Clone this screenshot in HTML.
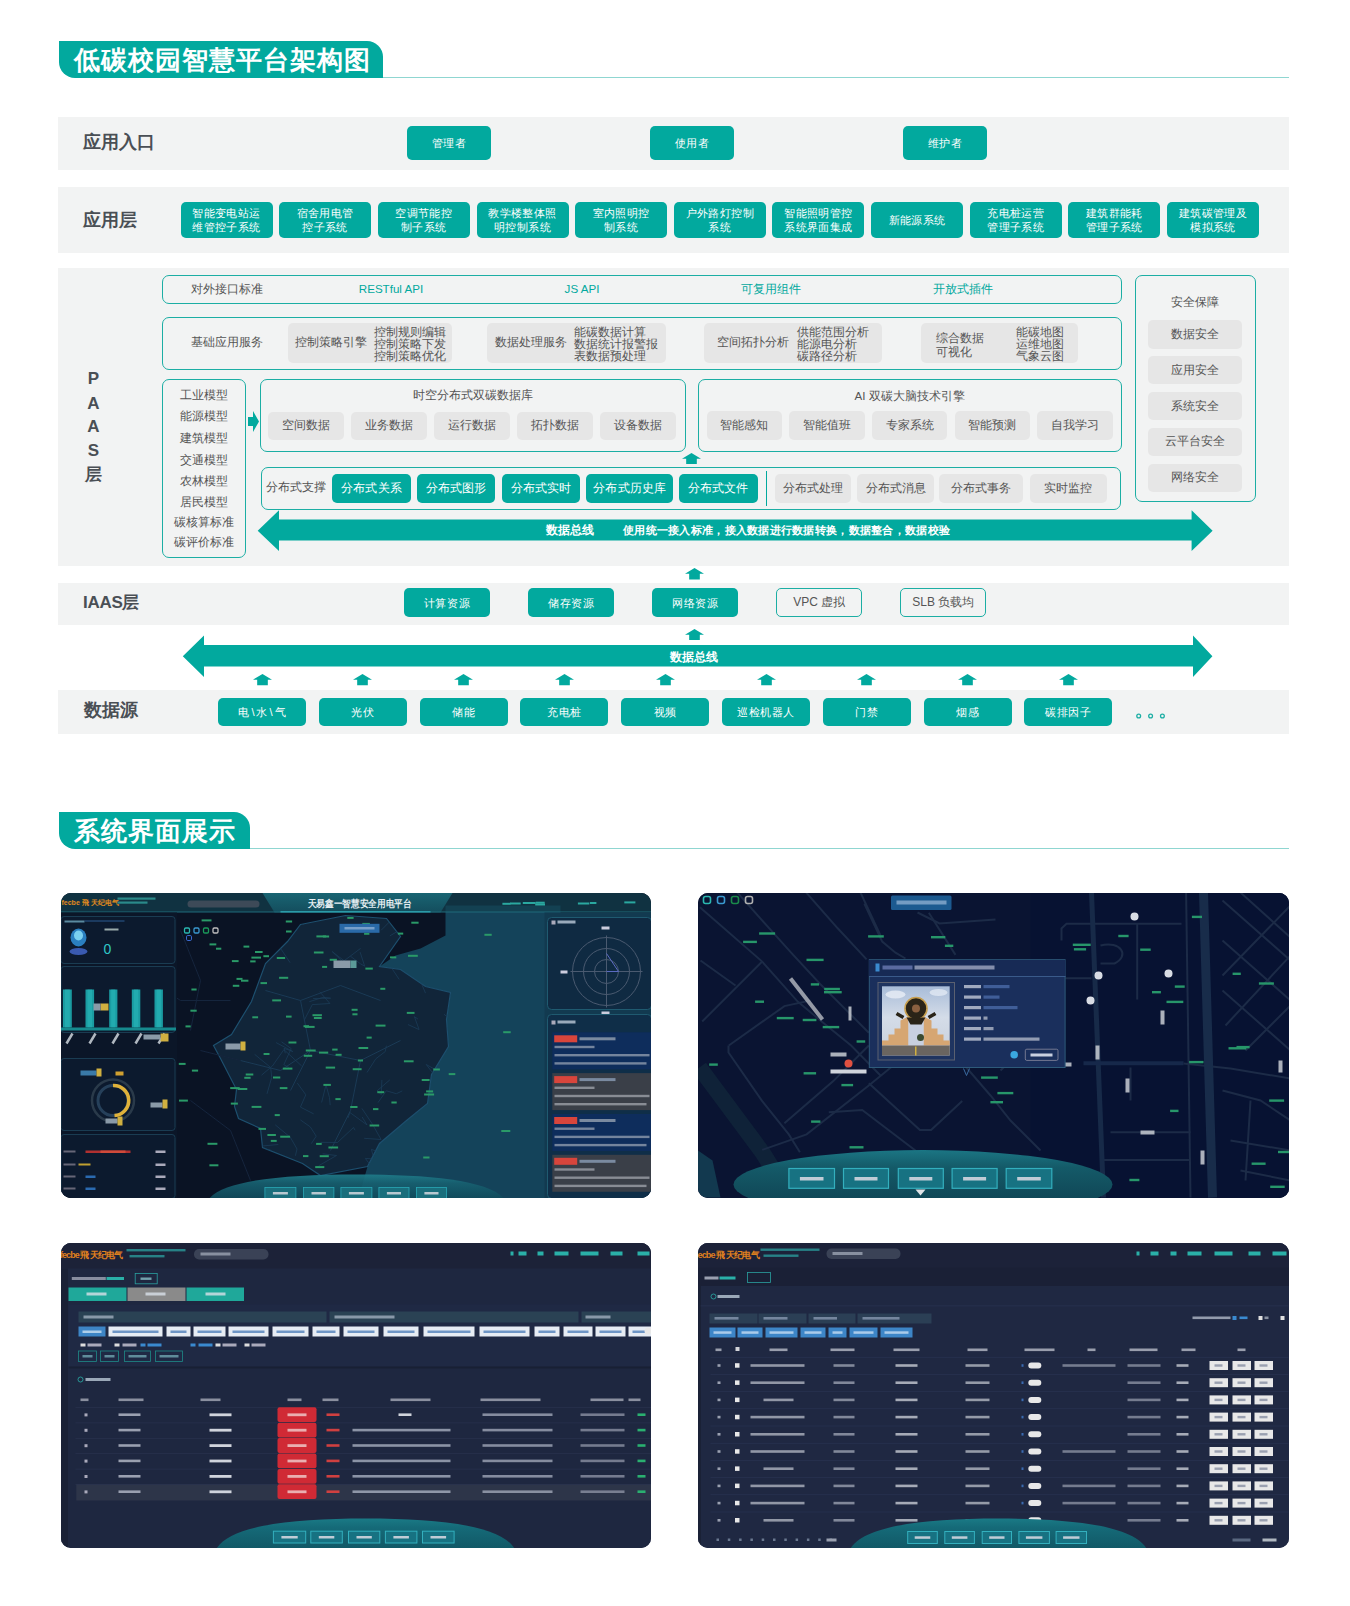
<!DOCTYPE html>
<html><head><meta charset="utf-8"><style>
*{margin:0;padding:0;box-sizing:border-box}
html,body{width:1350px;height:1606px;overflow:hidden;background:#fff;font-family:"Liberation Sans",sans-serif}
.a{position:absolute}
.band{position:absolute;left:58px;width:1231px;background:#F2F3F3}
.t{position:absolute;background:#02A99E;color:#fff;border-radius:5px;display:flex;align-items:center;justify-content:center;text-align:center;font-size:11px;letter-spacing:0.55px;padding-top:2px;line-height:13.5px;white-space:nowrap;overflow:hidden}
.g{position:absolute;background:#E6E6E6;color:#555;border-radius:5px;display:flex;align-items:center;justify-content:center;text-align:center;font-size:11.6px;white-space:nowrap}
.o{position:absolute;border:1.5px solid #1CAEA4;border-radius:7px}
.lbl{position:absolute;font-size:18px;font-weight:bold;color:#4A4F55;line-height:20px;white-space:nowrap}
.tx{position:absolute;font-size:11.6px;color:#555;white-space:nowrap;line-height:14px}
.hd{position:absolute;background:#02A99E;color:#fff;font-weight:bold;font-size:26px;letter-spacing:1px;border-radius:0 16px 0 16px;padding-left:15px;line-height:38px;white-space:nowrap}
.hl{position:absolute;height:1.3px;background:#8FD6D1}
</style></head><body>
<div class="hd" style="left:59px;top:41px;width:324px;height:37px">低碳校园智慧平台架构图</div>
<div class="hl" style="left:383px;top:76.5px;width:906px"></div>
<div class="band" style="top:117px;height:53px"></div>
<div class="lbl" style="left:83px;top:132px">应用入口</div>
<div class="t" style="left:407px;top:126px;width:84px;height:34px;font-size:11px;">管理者</div>
<div class="t" style="left:650px;top:126px;width:84px;height:34px;font-size:11px;">使用者</div>
<div class="t" style="left:903px;top:126px;width:84px;height:34px;font-size:11px;">维护者</div>
<div class="band" style="top:187px;height:66px"></div>
<div class="lbl" style="left:83px;top:210px">应用层</div>
<div class="t" style="left:180.5px;top:202px;width:92px;height:36px;font-size:11px;line-height:14px;letter-spacing:0.4px;padding-top:0">智能变电站运<br>维管控子系统</div>
<div class="t" style="left:279.1px;top:202px;width:92px;height:36px;font-size:11px;line-height:14px;letter-spacing:0.4px;padding-top:0">宿舍用电管<br>控子系统</div>
<div class="t" style="left:377.8px;top:202px;width:92px;height:36px;font-size:11px;line-height:14px;letter-spacing:0.4px;padding-top:0">空调节能控<br>制子系统</div>
<div class="t" style="left:476.5px;top:202px;width:92px;height:36px;font-size:11px;line-height:14px;letter-spacing:0.4px;padding-top:0">教学楼整体照<br>明控制系统</div>
<div class="t" style="left:575.1px;top:202px;width:92px;height:36px;font-size:11px;line-height:14px;letter-spacing:0.4px;padding-top:0">室内照明控<br>制系统</div>
<div class="t" style="left:673.8px;top:202px;width:92px;height:36px;font-size:11px;line-height:14px;letter-spacing:0.4px;padding-top:0">户外路灯控制<br>系统</div>
<div class="t" style="left:772.4px;top:202px;width:92px;height:36px;font-size:11px;line-height:14px;letter-spacing:0.4px;padding-top:0">智能照明管控<br>系统界面集成</div>
<div class="t" style="left:871.1px;top:202px;width:92px;height:36px;font-size:11px;line-height:14px;letter-spacing:0.4px;padding-top:0">新能源系统</div>
<div class="t" style="left:969.7px;top:202px;width:92px;height:36px;font-size:11px;line-height:14px;letter-spacing:0.4px;padding-top:0">充电桩运营<br>管理子系统</div>
<div class="t" style="left:1068.3px;top:202px;width:92px;height:36px;font-size:11px;line-height:14px;letter-spacing:0.4px;padding-top:0">建筑群能耗<br>管理子系统</div>
<div class="t" style="left:1167.0px;top:202px;width:92px;height:36px;font-size:11px;line-height:14px;letter-spacing:0.4px;padding-top:0">建筑碳管理及<br>模拟系统</div>
<div class="band" style="top:268px;height:298px"></div>
<div class="tx" style="left:-206.5px;top:369px;width:600px;height:20px;line-height:20px;text-align:center;font-size:17px;color:#4A4F55;font-weight:bold">P</div>
<div class="tx" style="left:-206.5px;top:393.5px;width:600px;height:20px;line-height:20px;text-align:center;font-size:17px;color:#4A4F55;font-weight:bold">A</div>
<div class="tx" style="left:-206.5px;top:417px;width:600px;height:20px;line-height:20px;text-align:center;font-size:17px;color:#4A4F55;font-weight:bold">A</div>
<div class="tx" style="left:-206.5px;top:440.5px;width:600px;height:20px;line-height:20px;text-align:center;font-size:17px;color:#4A4F55;font-weight:bold">S</div>
<div class="tx" style="left:-206.5px;top:464.5px;width:600px;height:20px;line-height:20px;text-align:center;font-size:17px;color:#4A4F55;font-weight:bold">层</div>
<div class="o" style="left:161.5px;top:275px;width:960px;height:28.5px;"></div>
<div class="tx" style="left:191px;top:282px;font-size:11.6px;color:#555;">对外接口标准</div>
<div class="tx" style="left:91px;top:279px;width:600px;height:20px;line-height:20px;text-align:center;font-size:11.6px;color:#02A99E;">RESTful API</div>
<div class="tx" style="left:282px;top:279px;width:600px;height:20px;line-height:20px;text-align:center;font-size:11.6px;color:#02A99E;">JS API</div>
<div class="tx" style="left:471px;top:279px;width:600px;height:20px;line-height:20px;text-align:center;font-size:11.6px;color:#02A99E;">可复用组件</div>
<div class="tx" style="left:663px;top:279px;width:600px;height:20px;line-height:20px;text-align:center;font-size:11.6px;color:#02A99E;">开放式插件</div>
<div class="o" style="left:161.5px;top:316.5px;width:960px;height:53px;"></div>
<div class="tx" style="left:191px;top:335px;font-size:11.6px;color:#555;">基础应用服务</div>
<div class="g" style="left:288px;top:323px;width:164px;height:39.5px;font-size:11.6px;"></div>
<div class="g" style="left:487px;top:323px;width:179px;height:39.5px;font-size:11.6px;"></div>
<div class="g" style="left:704px;top:323px;width:178px;height:39.5px;font-size:11.6px;"></div>
<div class="g" style="left:921px;top:323px;width:157px;height:39.5px;font-size:11.6px;"></div>
<div class="tx" style="left:294.5px;top:335px;font-size:11.6px;color:#555;">控制策略引擎</div>
<div class="tx" style="left:374px;top:325.5px;line-height:12px;font-size:12.4px">控制规则编辑<br>控制策略下发<br>控制策略优化</div>
<div class="tx" style="left:494.5px;top:335px;font-size:11.6px;color:#555;">数据处理服务</div>
<div class="tx" style="left:574px;top:325.5px;line-height:12px;font-size:12.4px">能碳数据计算<br>数据统计报警报<br>表数据预处理</div>
<div class="tx" style="left:717px;top:335px;font-size:11.6px;color:#555;">空间拓扑分析</div>
<div class="tx" style="left:797px;top:325.5px;line-height:12px;font-size:12.4px">供能范围分析<br>能源电分析<br>碳路径分析</div>
<div class="tx" style="left:936px;top:331px;line-height:13.5px">综合数据<br>可视化</div>
<div class="tx" style="left:1015.5px;top:325.5px;line-height:12px;font-size:12.4px">能碳地图<br>运维地图<br>气象云图</div>
<div class="o" style="left:161.5px;top:378.5px;width:84px;height:179px;"></div>
<div class="tx" style="left:-96.5px;top:384.7px;width:600px;height:20px;line-height:20px;text-align:center;font-size:11.6px;color:#555;">工业模型</div>
<div class="tx" style="left:-96.5px;top:406px;width:600px;height:20px;line-height:20px;text-align:center;font-size:11.6px;color:#555;">能源模型</div>
<div class="tx" style="left:-96.5px;top:427.7px;width:600px;height:20px;line-height:20px;text-align:center;font-size:11.6px;color:#555;">建筑模型</div>
<div class="tx" style="left:-96.5px;top:449.6px;width:600px;height:20px;line-height:20px;text-align:center;font-size:11.6px;color:#555;">交通模型</div>
<div class="tx" style="left:-96.5px;top:470.9px;width:600px;height:20px;line-height:20px;text-align:center;font-size:11.6px;color:#555;">农林模型</div>
<div class="tx" style="left:-96.5px;top:491.7px;width:600px;height:20px;line-height:20px;text-align:center;font-size:11.6px;color:#555;">居民模型</div>
<div class="tx" style="left:-96.5px;top:511.79999999999995px;width:600px;height:20px;line-height:20px;text-align:center;font-size:11.6px;color:#555;">碳核算标准</div>
<div class="tx" style="left:-96.5px;top:532.2px;width:600px;height:20px;line-height:20px;text-align:center;font-size:11.6px;color:#555;">碳评价标准</div>
<svg class="a" style="left:248px;top:410.5px" width="11" height="21" viewBox="0 0 11 21"><path d="M0 6 L5 6 L5 0 L11 10.5 L5 21 L5 15 L0 15 Z" fill="#02A99E"/></svg>
<div class="o" style="left:259.5px;top:379px;width:426.5px;height:73px;"></div>
<div class="tx" style="left:172.5px;top:385px;width:600px;height:20px;line-height:20px;text-align:center;font-size:11.6px;color:#555;">时空分布式双碳数据库</div>
<div class="g" style="left:268.3px;top:411.5px;width:76px;height:28.5px;font-size:11.6px;">空间数据</div>
<div class="g" style="left:351.1px;top:411.5px;width:76px;height:28.5px;font-size:11.6px;">业务数据</div>
<div class="g" style="left:434.0px;top:411.5px;width:76px;height:28.5px;font-size:11.6px;">运行数据</div>
<div class="g" style="left:516.9px;top:411.5px;width:76px;height:28.5px;font-size:11.6px;">拓扑数据</div>
<div class="g" style="left:599.7px;top:411.5px;width:76px;height:28.5px;font-size:11.6px;">设备数据</div>
<div class="o" style="left:697.5px;top:379px;width:424px;height:73px;"></div>
<div class="tx" style="left:609.5px;top:386px;width:600px;height:20px;line-height:20px;text-align:center;font-size:11.6px;color:#555;">AI 双碳大脑技术引擎</div>
<div class="g" style="left:706.5px;top:411px;width:75.5px;height:28.5px;font-size:11.6px;">智能感知</div>
<div class="g" style="left:789.2px;top:411px;width:75.5px;height:28.5px;font-size:11.6px;">智能值班</div>
<div class="g" style="left:871.9px;top:411px;width:75.5px;height:28.5px;font-size:11.6px;">专家系统</div>
<div class="g" style="left:954.6px;top:411px;width:75.5px;height:28.5px;font-size:11.6px;">智能预测</div>
<div class="g" style="left:1037.3px;top:411px;width:75.5px;height:28.5px;font-size:11.6px;">自我学习</div>
<svg class="a" style="left:682.0px;top:452.7px" width="19" height="11.5" viewBox="0 0 19 11.5"><path d="M9.5 0 L19 5.75 L14.82 5.75 L14.82 11.5 L4.18 11.5 L4.18 5.75 L0 5.75 Z" fill="#02A99E"/></svg>
<div class="o" style="left:260.5px;top:466.5px;width:860px;height:43.5px;"></div>
<div class="tx" style="left:265.5px;top:480px;font-size:11.6px;color:#555;">分布式支撑</div>
<div class="t" style="left:332.3px;top:474px;width:78.4px;height:29px;font-size:12px;letter-spacing:0.1px;padding-top:1px">分布式关系</div>
<div class="t" style="left:417.3px;top:474px;width:77.7px;height:29px;font-size:12px;letter-spacing:0.1px;padding-top:1px">分布式图形</div>
<div class="t" style="left:501.7px;top:474px;width:78.6px;height:29px;font-size:12px;letter-spacing:0.1px;padding-top:1px">分布式实时</div>
<div class="t" style="left:586px;top:474px;width:87.3px;height:29px;font-size:12px;letter-spacing:0.1px;padding-top:1px">分布式历史库</div>
<div class="t" style="left:678.5px;top:474px;width:79.4px;height:29px;font-size:12px;letter-spacing:0.1px;padding-top:1px">分布式文件</div>
<div class="a" style="left:765.5px;top:470.5px;width:1.5px;height:35.5px;background:#02A99E"></div>
<div class="g" style="left:775px;top:474px;width:75.6px;height:29px;font-size:12.2px;">分布式处理</div>
<div class="g" style="left:857.4px;top:474px;width:76.6px;height:29px;font-size:12.2px;">分布式消息</div>
<div class="g" style="left:939.2px;top:474px;width:84.1px;height:29px;font-size:12.2px;">分布式事务</div>
<div class="g" style="left:1030px;top:474px;width:76.8px;height:29px;font-size:12.2px;">实时监控</div>
<div class="o" style="left:1135px;top:275px;width:121px;height:227px;"></div>
<div class="tx" style="left:895px;top:291.5px;width:600px;height:20px;line-height:20px;text-align:center;font-size:11.6px;color:#555;">安全保障</div>
<div class="g" style="left:1148px;top:320.0px;width:94px;height:28.5px;font-size:11.6px;">数据安全</div>
<div class="g" style="left:1148px;top:355.9px;width:94px;height:28.5px;font-size:11.6px;">应用安全</div>
<div class="g" style="left:1148px;top:391.8px;width:94px;height:28.5px;font-size:11.6px;">系统安全</div>
<div class="g" style="left:1148px;top:427.7px;width:94px;height:28.5px;font-size:11.6px;">云平台安全</div>
<div class="g" style="left:1148px;top:463.6px;width:94px;height:28.5px;font-size:11.6px;">网络安全</div>
<svg class="a" style="left:0;top:0" width="1350" height="1606"><path d="M257.7 530.7 L279 510.3 L279 519.4 L1191.6 519.4 L1191.6 510.3 L1212.6 530.7 L1191.6 551.1 L1191.6 540.4 L279 540.4 L279 551.1 Z" fill="#02A99E"/></svg>
<div class="tx" style="left:545.5px;top:523px;font-size:11.6px;color:#fff;font-weight:bold">数据总线</div>
<div class="tx" style="left:623px;top:523px;font-size:11px;letter-spacing:0.28px;color:#fff;font-weight:bold">使用统一接入标准，接入数据进行数据转换，数据整合，数据校验</div>
<svg class="a" style="left:684.9px;top:568px" width="19" height="11.5" viewBox="0 0 19 11.5"><path d="M9.5 0 L19 5.75 L14.82 5.75 L14.82 11.5 L4.18 11.5 L4.18 5.75 L0 5.75 Z" fill="#02A99E"/></svg>
<div class="band" style="top:583px;height:41.5px"></div>
<div class="lbl" style="left:83px;top:593px;font-size:17px;letter-spacing:-0.3px">IAAS层</div>
<div class="t" style="left:404.3px;top:588px;width:85.5px;height:28.5px;font-size:11px;">计算资源</div>
<div class="t" style="left:527.9px;top:588px;width:86.4px;height:28.5px;font-size:11px;">储存资源</div>
<div class="t" style="left:652.4px;top:588px;width:85.4px;height:28.5px;font-size:11px;">网络资源</div>
<div class="o" style="left:776.4px;top:588px;width:85.9px;height:28.5px;border-radius:5px;display:flex;align-items:center;justify-content:center;font-size:12px;color:#555">VPC 虚拟</div>
<div class="o" style="left:900.4px;top:588px;width:85.9px;height:28.5px;border-radius:5px;display:flex;align-items:center;justify-content:center;font-size:12px;color:#555">SLB 负载均</div>
<svg class="a" style="left:685.2px;top:628.5px" width="19" height="11.5" viewBox="0 0 19 11.5"><path d="M9.5 0 L19 5.75 L14.82 5.75 L14.82 11.5 L4.18 11.5 L4.18 5.75 L0 5.75 Z" fill="#02A99E"/></svg>
<svg class="a" style="left:0;top:0" width="1350" height="1606"><path d="M182.8 656.3 L204 635.6 L204 645 L1193 645 L1193 635.6 L1212.4 656.3 L1193 677 L1193 666.5 L204 666.5 L204 677 Z" fill="#02A99E"/></svg>
<div class="tx" style="left:393.70000000000005px;top:646.5px;width:600px;height:20px;line-height:20px;text-align:center;font-size:12px;color:#fff;font-weight:bold">数据总线</div>
<div class="band" style="top:690px;height:43.5px"></div>
<div class="lbl" style="left:83.5px;top:700px">数据源</div>
<div class="t" style="left:218.0px;top:697.6px;width:88px;height:28.7px;font-size:11px;letter-spacing:2px;padding-left:2px">电\水\气</div>
<svg class="a" style="left:252.5px;top:674.3px" width="19" height="11.3" viewBox="0 0 19 11.3"><path d="M9.5 0 L19 5.65 L14.82 5.65 L14.82 11.3 L4.18 11.3 L4.18 5.65 L0 5.65 Z" fill="#02A99E"/></svg>
<div class="t" style="left:318.8px;top:697.6px;width:88px;height:28.7px;font-size:11px;">光伏</div>
<svg class="a" style="left:353.3px;top:674.3px" width="19" height="11.3" viewBox="0 0 19 11.3"><path d="M9.5 0 L19 5.65 L14.82 5.65 L14.82 11.3 L4.18 11.3 L4.18 5.65 L0 5.65 Z" fill="#02A99E"/></svg>
<div class="t" style="left:419.6px;top:697.6px;width:88px;height:28.7px;font-size:11px;">储能</div>
<svg class="a" style="left:454.1px;top:674.3px" width="19" height="11.3" viewBox="0 0 19 11.3"><path d="M9.5 0 L19 5.65 L14.82 5.65 L14.82 11.3 L4.18 11.3 L4.18 5.65 L0 5.65 Z" fill="#02A99E"/></svg>
<div class="t" style="left:520.4px;top:697.6px;width:88px;height:28.7px;font-size:11px;">充电桩</div>
<svg class="a" style="left:554.9px;top:674.3px" width="19" height="11.3" viewBox="0 0 19 11.3"><path d="M9.5 0 L19 5.65 L14.82 5.65 L14.82 11.3 L4.18 11.3 L4.18 5.65 L0 5.65 Z" fill="#02A99E"/></svg>
<div class="t" style="left:621.2px;top:697.6px;width:88px;height:28.7px;font-size:11px;">视频</div>
<svg class="a" style="left:655.7px;top:674.3px" width="19" height="11.3" viewBox="0 0 19 11.3"><path d="M9.5 0 L19 5.65 L14.82 5.65 L14.82 11.3 L4.18 11.3 L4.18 5.65 L0 5.65 Z" fill="#02A99E"/></svg>
<div class="t" style="left:722.0px;top:697.6px;width:88px;height:28.7px;font-size:11px;">巡检机器人</div>
<svg class="a" style="left:756.5px;top:674.3px" width="19" height="11.3" viewBox="0 0 19 11.3"><path d="M9.5 0 L19 5.65 L14.82 5.65 L14.82 11.3 L4.18 11.3 L4.18 5.65 L0 5.65 Z" fill="#02A99E"/></svg>
<div class="t" style="left:822.8px;top:697.6px;width:88px;height:28.7px;font-size:11px;">门禁</div>
<svg class="a" style="left:857.3px;top:674.3px" width="19" height="11.3" viewBox="0 0 19 11.3"><path d="M9.5 0 L19 5.65 L14.82 5.65 L14.82 11.3 L4.18 11.3 L4.18 5.65 L0 5.65 Z" fill="#02A99E"/></svg>
<div class="t" style="left:923.6px;top:697.6px;width:88px;height:28.7px;font-size:11px;">烟感</div>
<svg class="a" style="left:958.1px;top:674.3px" width="19" height="11.3" viewBox="0 0 19 11.3"><path d="M9.5 0 L19 5.65 L14.82 5.65 L14.82 11.3 L4.18 11.3 L4.18 5.65 L0 5.65 Z" fill="#02A99E"/></svg>
<div class="t" style="left:1024.4px;top:697.6px;width:88px;height:28.7px;font-size:11px;">碳排因子</div>
<svg class="a" style="left:1058.9px;top:674.3px" width="19" height="11.3" viewBox="0 0 19 11.3"><path d="M9.5 0 L19 5.65 L14.82 5.65 L14.82 11.3 L4.18 11.3 L4.18 5.65 L0 5.65 Z" fill="#02A99E"/></svg>
<svg class="a" style="left:1130px;top:708px" width="40" height="16" viewBox="1130 708 40 16"><circle cx="1138.7" cy="716" r="1.9" fill="none" stroke="#1CAEA4" stroke-width="1.3"/><circle cx="1150.6" cy="716" r="1.9" fill="none" stroke="#1CAEA4" stroke-width="1.3"/><circle cx="1162.4" cy="716" r="1.9" fill="none" stroke="#1CAEA4" stroke-width="1.3"/></svg>
<div class="hd" style="left:59px;top:812px;width:191px;height:37px">系统界面展示</div>
<div class="hl" style="left:250px;top:847.5px;width:1039px"></div>
<div class="a" style="left:60.5px;top:892.5px;width:590.5px;height:305px;border-radius:10px;overflow:hidden;background:#0b1b30"><svg width="590.5" height="305" viewBox="60.5 892.5 590.5 305" style="position:absolute;left:0;top:0"><rect x="60.5" y="892.5" width="590.5" height="305" fill="#0a1324" /><polygon points="445,905 560,905 560,1198 358,1198 367,1166 379,1143 406,1120 427,1103 431,1074 448,1046 446,1019 450,992 425,986 400,969 379,966 395,955 420,948 445,935" fill="#14435a" /><polygon points="300,924 345,915 386,918 400,936 379,966 400,969 425,986 450,992 446,1019 448,1046 431,1074 427,1103 406,1120 379,1143 367,1166 320,1175 302,1163 262,1147 260,1128 238,1118 234,1106 236,1089 220,1058 213,1045 231,1034 251,1001 265,963 287,941" fill="#112539" stroke="#1d4f6e" stroke-width="1.2"/><defs><clipPath id="zjc"><polygon points="300,924 345,915 386,918 400,936 379,966 400,969 425,986 450,992 446,1019 448,1046 431,1074 427,1103 406,1120 379,1143 367,1166 320,1175 302,1163 262,1147 260,1128 238,1118 234,1106 236,1089 220,1058 213,1045 231,1034 251,1001 265,963 287,941"/></clipPath></defs><path d="M361.4 1107.9 L372.0 1123.8 L380.6 1139.0 L363.7 1137.8 M436.7 1083.7 L451.1 1069.8 L450.0 1060.7 L451.6 1063.3 M218.1 971.3 L210.1 986.3 L219.7 974.1 L230.4 961.1 M360.1 947.9 L342.2 961.3 L331.7 951.1 L349.1 964.5 M283.0 1165.0 L284.4 1171.4 L273.8 1187.3 L280.6 1204.1 M425.0 992.7 L420.0 980.7 L407.3 965.0 L400.1 968.7 M215.8 1091.3 L210.0 1084.4 L221.4 1083.7 L214.8 1083.1 M380.6 929.8 L397.7 912.6 L406.7 925.1 L389.3 935.4 M301.1 1065.4 L283.4 1049.1 L271.9 1065.5 L261.0 1074.7 M433.5 1159.9 L427.9 1154.7 L428.8 1164.6 L414.6 1173.6 M402.3 1138.5 L385.7 1154.6 L370.9 1148.8 L374.9 1163.9 M294.9 1155.3 L296.5 1148.5 L289.9 1136.9 L274.7 1124.3 M377.0 1174.1 L364.8 1157.9 L382.3 1159.1 L378.9 1149.6 M354.6 1129.8 L353.0 1127.0 L337.0 1142.0 L320.2 1141.8 M412.0 948.9 L420.4 965.1 L425.1 975.5 L410.9 973.2 M250.1 1134.6 L242.7 1132.9 L260.7 1145.6 L277.8 1144.0 M329.7 1104.7 L329.0 1097.1 L325.5 1084.4 L321.1 1102.0 M440.6 1078.0 L440.5 1072.2 L425.7 1064.0 L435.9 1077.2 M299.9 1119.4 L309.8 1126.4 L315.7 1135.7 L310.8 1143.1 M281.0 1041.3 L290.7 1048.1 L283.3 1064.2 L288.7 1067.1 M217.7 1057.2 L208.7 1063.4 L207.4 1074.8 L212.7 1085.5 M296.8 1082.5 L305.3 1094.3 L299.9 1106.6 L313.2 1113.4 M444.4 1163.7 L445.0 1164.8 L433.0 1176.9 L448.8 1176.0 M377.5 1102.1 L385.8 1090.3 L395.9 1093.2 L401.8 1090.4 M361.6 1116.4 L366.5 1124.4 L349.5 1112.1 L347.4 1117.5 M266.5 1093.3 L271.2 1076.9 L270.2 1067.0 L254.1 1053.8 M289.6 962.2 L278.5 945.5 L277.3 941.2 L281.3 944.4 M270.9 1149.8 L252.9 1146.4 L244.9 1143.2 L231.1 1155.1 M302.9 924.4 L307.0 909.8 L308.6 904.0 L311.5 920.5 M407.4 1024.0 L418.6 1029.1 L413.9 1016.2 L417.4 1018.5 M439.9 1166.7 L443.9 1161.3 L458.0 1143.4 L443.9 1145.7 M359.6 951.6 L364.2 965.7 L359.8 963.2 L349.9 955.7 M443.5 1013.7 L460.1 1028.6 L463.6 1020.0 L480.9 1019.9 M312.6 998.0 L330.1 997.7 L322.4 996.9 L308.8 1001.2 M319.2 991.2 L329.4 1003.0 L311.8 1004.1 L303.7 1019.8 M398.7 978.9 L390.4 966.4 L408.0 959.0 L411.9 958.1 M366.5 1072.0 L375.3 1058.3 L384.7 1051.1 L385.9 1045.2 M284.8 1052.8 L283.5 1047.8 L292.3 1051.0 L275.6 1042.1 M322.1 1153.3 L336.0 1155.0 L318.6 1165.0 L316.0 1167.7 M381.4 1079.4 L380.8 1094.2 L376.6 1090.3 L389.3 1079.4" stroke="#1c3c58" stroke-width="0.8" fill="none" clip-path="url(#zjc)"/><path d="M265 990 L300 1000 L340 985 L380 1000 M300 1000 L310 1050 L290 1090 M310 1050 L360 1060 L400 1040 M360 1060 L350 1110 L330 1150 M240 1060 L280 1070 L310 1050" stroke="#1a3a55" stroke-width="1" fill="none"/><path d="M180 930 L200 980 L190 1030 M120 960 L180 1000 L230 1000 M190 1100 L230 1130 L250 1180 M200 1050 L240 1060" stroke="#15253d" stroke-width="1" fill="none"/><defs><linearGradient id="hd1" x1="0" y1="0" x2="0" y2="1"><stop offset="0" stop-color="#1a6a78"/><stop offset="1" stop-color="#145060"/></linearGradient></defs><rect x="60.5" y="892.5" width="590.5" height="19" fill="#12404f" opacity="0.7"/><polygon points="262,892.5 452,892.5 440,912 274,912" fill="url(#hd1)" opacity="0.9"/><rect x="60.5" y="911" width="590.5" height="1" fill="#1e6a7a" /><rect x="280" y="910.5" width="150" height="1.5" fill="#2a9aa8" /><text x="307" y="906.5" font-size="9.5" font-weight="bold" fill="#e6eef2" textLength="104" lengthAdjust="spacingAndGlyphs" font-family="Liberation Sans, sans-serif">天易鑫一智慧安全用电平台</text><text x="61" y="904" font-size="7" font-weight="bold" fill="#e08a20" font-family="Liberation Sans, sans-serif">fecbe 飛 天纪电气</text><rect x="117" y="897" width="38" height="2.2" fill="#2a8a8a" /><rect x="117" y="901" width="30" height="2.2" fill="#2a8a8a" /><rect x="187" y="900" width="72" height="7" fill="#3d4a58" rx="3.5"/><rect x="535.2" y="901.2" width="9.0" height="2" fill="#2aa8a0" /><rect x="589.4" y="901.5" width="6.5" height="2" fill="#2aa8a0" /><rect x="501.9" y="902.3" width="8.1" height="2" fill="#2aa8a0" /><rect x="534.7" y="903.0" width="9.8" height="2" fill="#2aa8a0" /><rect x="623.8" y="900.9" width="11.1" height="2" fill="#2aa8a0" /><rect x="522.3" y="901.5" width="12.9" height="2" fill="#2aa8a0" /><rect x="577.4" y="902.0" width="11.4" height="2" fill="#2aa8a0" /><rect x="509.5" y="902.0" width="10.7" height="2" fill="#2aa8a0" /><rect x="60.5" y="912" width="116" height="286" fill="#0b1628" /><rect x="60.5" y="916" width="114" height="47" fill="#0c1a2e" stroke="#1a3c52" stroke-width="1" rx="3"/><rect x="60.5" y="966" width="114" height="66" fill="#0c1a2e" stroke="#1a3c52" stroke-width="1" rx="3"/><rect x="60.5" y="1058" width="114" height="72" fill="#0c1a2e" stroke="#1a3c52" stroke-width="1" rx="3"/><rect x="60.5" y="1134" width="114" height="64" fill="#0c1a2e" stroke="#1a3c52" stroke-width="1" rx="3"/><rect x="64" y="920" width="20" height="2" fill="#5a8aa0" /><rect x="84" y="920" width="40" height="1" fill="#2a5a90" /><ellipse cx="78" cy="937" rx="8" ry="9" fill="#2a7fc0"/><ellipse cx="78" cy="935" rx="4.5" ry="5" fill="#7ad0f0"/><ellipse cx="78" cy="951" rx="9" ry="3.5" fill="#3a5ab0"/><text x="103" y="953" font-size="14" fill="#30c8c8" font-family="Liberation Sans, sans-serif">0</text><rect x="104" y="928" width="14" height="2" fill="#9aa" /><rect x="62.4" y="989" width="8.899999999999999" height="38" fill="#1a9ca2" /><rect x="64.4" y="989" width="4.899999999999999" height="38" fill="#28b5b8" opacity="0.6"/><rect x="85" y="989" width="8.599999999999994" height="38" fill="#1a9ca2" /><rect x="87" y="989" width="4.599999999999994" height="38" fill="#28b5b8" opacity="0.6"/><rect x="108.7" y="989" width="8.200000000000003" height="38" fill="#1a9ca2" /><rect x="110.7" y="989" width="4.200000000000003" height="38" fill="#28b5b8" opacity="0.6"/><rect x="131.3" y="989" width="8.5" height="38" fill="#1a9ca2" /><rect x="133.3" y="989" width="4.5" height="38" fill="#28b5b8" opacity="0.6"/><rect x="154" y="989" width="8.400000000000006" height="38" fill="#1a9ca2" /><rect x="156" y="989" width="4.400000000000006" height="38" fill="#28b5b8" opacity="0.6"/><rect x="100" y="1003" width="8" height="7" fill="#d0b040" /><rect x="93" y="1003" width="7" height="7" fill="#8a9aa8" /><rect x="60.5" y="1027" width="115" height="3" fill="#168a8e" /><path d="M66 1043 L72 1033" stroke="#b0b8c0" stroke-width="2.5"/><path d="M89 1043 L95 1033" stroke="#b0b8c0" stroke-width="2.5"/><path d="M112 1043 L118 1033" stroke="#b0b8c0" stroke-width="2.5"/><path d="M135 1043 L141 1033" stroke="#b0b8c0" stroke-width="2.5"/><path d="M158 1043 L164 1033" stroke="#b0b8c0" stroke-width="2.5"/><rect x="160" y="1033" width="8" height="8" fill="#d0b040" /><rect x="143" y="1034" width="17" height="5" fill="#8a9aa8" /><circle cx="112.5" cy="1100" r="21" fill="none" stroke="#2a3a4a" stroke-width="2.5"/><circle cx="112.5" cy="1100" r="15" fill="none" stroke="#26405a" stroke-width="3"/><path d="M112.5 1085 A15 15 0 0 1 114 1115" fill="none" stroke="#e0b23a" stroke-width="3.5"/><rect x="80" y="1070" width="16" height="5" fill="#3a7aa8" /><rect x="96" y="1068" width="5" height="8" fill="#d0b040" /><rect x="115" y="1071" width="8" height="4" fill="#d0a030" /><rect x="150" y="1102" width="12" height="5" fill="#8a9aa8" /><rect x="162" y="1099" width="5" height="9" fill="#d0b040" /><rect x="105" y="1118" width="12" height="5" fill="#8a9aa8" /><rect x="117" y="1116" width="5" height="9" fill="#d0b040" /><rect x="85" y="1150" width="45" height="2.5" fill="#b03030" /><rect x="100" y="1150" width="25" height="2.5" fill="#d04a3a" /><rect x="78" y="1163" width="12" height="2" fill="#c0a030" /><rect x="85" y="1175" width="10" height="2.5" fill="#2a6ab0" /><rect x="85" y="1187" width="10" height="2.5" fill="#2a6ab0" /><rect x="155" y="1150" width="10" height="2.5" fill="#aab" /><rect x="63" y="1150" width="12" height="2" fill="#667" /><rect x="155" y="1163" width="10" height="2.5" fill="#aab" /><rect x="63" y="1163" width="12" height="2" fill="#667" /><rect x="155" y="1175" width="10" height="2.5" fill="#aab" /><rect x="63" y="1175" width="12" height="2" fill="#667" /><rect x="155" y="1187" width="10" height="2.5" fill="#aab" /><rect x="63" y="1187" width="12" height="2" fill="#667" /><rect x="276.3" y="956.5" width="8.3" height="2" fill="#2a9a68" /><rect x="178.3" y="1062.4" width="6.8" height="2" fill="#2a9a68" /><rect x="315.6" y="1142.4" width="5.6" height="2" fill="#2a9a68" /><rect x="237.1" y="1087.5" width="9.7" height="2" fill="#2a9a68" /><rect x="375.1" y="1024.1" width="9.9" height="2" fill="#2a9a68" /><rect x="262.9" y="954.7" width="5.6" height="2" fill="#2a9a68" /><rect x="270.3" y="1139.4" width="5.9" height="2" fill="#2a9a68" /><rect x="376.8" y="1090.7" width="6.9" height="2" fill="#2a9a68" /><rect x="363.6" y="932.3" width="5.3" height="2" fill="#2a9a68" /><rect x="230.3" y="1102.1" width="7.1" height="2" fill="#2a9a68" /><rect x="272.5" y="1076.0" width="7.3" height="2" fill="#2a9a68" /><rect x="266.9" y="1133.5" width="8.5" height="2" fill="#2a9a68" /><rect x="245.2" y="1073.0" width="7.6" height="2" fill="#2a9a68" /><rect x="448.2" y="1072.6" width="6.6" height="2" fill="#2a9a68" /><rect x="421.2" y="1078.5" width="7.9" height="2" fill="#2a9a68" /><rect x="327.9" y="1146.0" width="9.7" height="2" fill="#2a9a68" /><rect x="334.9" y="1097.6" width="5.3" height="2" fill="#2a9a68" /><rect x="423.6" y="1093.0" width="10.0" height="2" fill="#2a9a68" /><rect x="410.8" y="921.2" width="7.3" height="2" fill="#2a9a68" /><rect x="215.5" y="947.2" width="5.3" height="2" fill="#2a9a68" /><rect x="302.5" y="1154.6" width="5.4" height="2" fill="#2a9a68" /><rect x="325.2" y="1066.1" width="9.4" height="2" fill="#2a9a68" /><rect x="312.0" y="1013.7" width="9.4" height="2" fill="#2a9a68" /><rect x="240.5" y="979.2" width="7.4" height="2" fill="#2a9a68" /><rect x="379.8" y="987.3" width="5.0" height="2" fill="#2a9a68" /><rect x="313.4" y="1016.5" width="7.8" height="2" fill="#2a9a68" /><rect x="390.9" y="1101.0" width="5.3" height="2" fill="#2a9a68" /><rect x="500.8" y="1129.5" width="9.0" height="2" fill="#2a9a68" /><rect x="303.0" y="1024.7" width="5.5" height="2" fill="#2a9a68" /><rect x="397.4" y="932.1" width="5.3" height="2" fill="#2a9a68" /><rect x="231.4" y="959.6" width="6.7" height="2" fill="#2a9a68" /><rect x="209.0" y="942.9" width="6.8" height="2" fill="#2a9a68" /><rect x="389.5" y="955.9" width="6.3" height="2" fill="#2a9a68" /><rect x="285.5" y="1015.1" width="5.6" height="2" fill="#2a9a68" /><rect x="331.7" y="1048.1" width="5.4" height="2" fill="#2a9a68" /><rect x="189.9" y="1009.2" width="6.3" height="2" fill="#2a9a68" /><rect x="361.8" y="922.4" width="7.6" height="2" fill="#2a9a68" /><rect x="251.8" y="1015.8" width="5.8" height="2" fill="#2a9a68" /><rect x="278.6" y="976.3" width="9.1" height="2" fill="#2a9a68" /><rect x="351.9" y="1012.8" width="5.1" height="2" fill="#2a9a68" /><rect x="251.1" y="1105.4" width="9.8" height="2" fill="#2a9a68" /><rect x="236.0" y="977.4" width="6.0" height="2" fill="#2a9a68" /><rect x="229.7" y="1086.6" width="9.5" height="2" fill="#2a9a68" /><rect x="336.4" y="964.1" width="8.9" height="2" fill="#2a9a68" /><rect x="279.7" y="1135.2" width="9.9" height="2" fill="#2a9a68" /><rect x="304.4" y="1025.4" width="9.7" height="2" fill="#2a9a68" /><rect x="208.9" y="1163.8" width="9.0" height="2" fill="#2a9a68" /><rect x="207.0" y="1142.3" width="9.9" height="2" fill="#2a9a68" /><rect x="406.3" y="1011.4" width="7.7" height="2" fill="#2a9a68" /><rect x="201.1" y="918.9" width="9.9" height="2" fill="#2a9a68" /><rect x="403.4" y="1059.8" width="9.7" height="2" fill="#2a9a68" /><rect x="319.2" y="1154.7" width="9.1" height="2" fill="#2a9a68" /><rect x="232.3" y="984.3" width="6.5" height="2" fill="#2a9a68" /><rect x="243.8" y="1076.3" width="6.3" height="2" fill="#2a9a68" /><rect x="313.4" y="951.0" width="9.6" height="2" fill="#2a9a68" /><rect x="288.0" y="1041.0" width="7.9" height="2" fill="#2a9a68" /><rect x="502.7" y="1030.7" width="7.5" height="2" fill="#2a9a68" /><rect x="357.4" y="1059.0" width="5.1" height="2" fill="#2a9a68" /><rect x="321.6" y="965.4" width="5.0" height="2" fill="#2a9a68" /><rect x="432.8" y="1068.0" width="6.6" height="2" fill="#2a9a68" /><rect x="352.2" y="1067.7" width="8.9" height="2" fill="#2a9a68" /><rect x="191.4" y="1069.1" width="6.2" height="2" fill="#2a9a68" /><rect x="258.0" y="1127.4" width="7.5" height="2" fill="#2a9a68" /><rect x="369.1" y="1124.0" width="9.6" height="2" fill="#2a9a68" /><rect x="322.9" y="1083.4" width="7.5" height="2" fill="#2a9a68" /><rect x="349.7" y="1105.5" width="7.3" height="2" fill="#2a9a68" /><rect x="358.0" y="1046.5" width="9.7" height="2" fill="#2a9a68" /><rect x="422.7" y="1156.0" width="6.3" height="2" fill="#2a9a68" /><rect x="322.4" y="935.0" width="6.2" height="2" fill="#2a9a68" /><rect x="178.5" y="1099.1" width="8.9" height="2" fill="#2a9a68" /><rect x="407.5" y="954.3" width="9.8" height="2" fill="#2a9a68" /><rect x="305.3" y="1049.0" width="9.9" height="2" fill="#2a9a68" /><rect x="351.1" y="1008.3" width="6.0" height="2" fill="#2a9a68" /><rect x="274.2" y="1113.6" width="5.1" height="2" fill="#2a9a68" /><rect x="366.1" y="1036.1" width="5.1" height="2" fill="#2a9a68" /><rect x="279.3" y="1086.6" width="7.6" height="2" fill="#2a9a68" /><rect x="190.9" y="988.0" width="5.2" height="2" fill="#2a9a68" /><rect x="314.7" y="1165.6" width="9.1" height="2" fill="#2a9a68" /><rect x="250.9" y="956.1" width="9.6" height="2" fill="#2a9a68" /><rect x="372.5" y="1107.6" width="5.4" height="2" fill="#2a9a68" /><rect x="315.9" y="934.9" width="9.7" height="2" fill="#2a9a68" /><rect x="483.9" y="933.3" width="7.3" height="2" fill="#2a9a68" /><rect x="282.3" y="1067.1" width="9.6" height="2" fill="#2a9a68" /><rect x="254.5" y="950.5" width="7.6" height="2" fill="#2a9a68" /><rect x="243.0" y="945.1" width="5.8" height="2" fill="#2a9a68" /><rect x="271.7" y="998.9" width="8.8" height="2" fill="#2a9a68" /><rect x="263.1" y="1052.5" width="5.9" height="2" fill="#2a9a68" /><rect x="285.3" y="920.0" width="6.3" height="2" fill="#2a9a68" /><rect x="364.9" y="967.1" width="7.4" height="2" fill="#2a9a68" /><rect x="318.5" y="1051.1" width="9.2" height="2" fill="#2a9a68" /><rect x="303.3" y="1054.3" width="8.4" height="2" fill="#2a9a68" /><rect x="425.6" y="1089.9" width="7.0" height="2" fill="#2a9a68" /><rect x="285.5" y="930.0" width="5.6" height="2" fill="#2a9a68" /><rect x="249.7" y="959.9" width="5.4" height="2" fill="#2a9a68" /><rect x="260.0" y="981.6" width="6.5" height="2" fill="#2a9a68" /><rect x="329.2" y="958.3" width="7.2" height="2" fill="#2a9a68" /><rect x="335.1" y="1053.3" width="6.0" height="2" fill="#2a9a68" /><rect x="346.8" y="916.4" width="6.3" height="2" fill="#2a9a68" /><rect x="185.0" y="1024.9" width="5.2" height="2" fill="#2a9a68" /><rect x="184.0" y="927.5" width="5" height="5" fill="none" stroke="#2ab8b0" stroke-width="1.3" rx="1.3"/><rect x="193.5" y="927.5" width="5" height="5" fill="none" stroke="#3a9ad0" stroke-width="1.3" rx="1.3"/><rect x="203.0" y="927.5" width="5" height="5" fill="none" stroke="#1a9a5a" stroke-width="1.3" rx="1.3"/><rect x="212.5" y="927.5" width="5" height="5" fill="none" stroke="#c0c0c0" stroke-width="1.3" rx="1.3"/><rect x="186" y="935" width="5" height="5" fill="none" stroke="#3a6ad0" stroke-width="1" rx="1.3"/><rect x="333" y="960" width="17" height="7.5" fill="#8a9aa8" /><rect x="350" y="960" width="6" height="7.5" fill="#5a9a98" /><rect x="225" y="1043" width="15" height="6" fill="#8a9aa8" /><rect x="240" y="1041" width="5" height="9" fill="#d0b040" /><rect x="339" y="923.3" width="40" height="9" fill="#2a6aa8" /><rect x="344" y="926.5" width="30" height="2.5" fill="#9ab8d8" opacity="0.7"/><defs><linearGradient id="gl1" x1="0" y1="0" x2="0" y2="1"><stop offset="0" stop-color="#1f7c8a"/><stop offset="0.35" stop-color="#176070"/><stop offset="1" stop-color="#10495a"/></linearGradient></defs><path d="M208 1199 C221.9 1180.0 282.0 1174 356.0 1174 C430.0 1174 490.1 1180.0 504 1199 Z" fill="url(#gl1)" opacity="0.92"/><rect x="264.4" y="1187" width="31.0" height="11" fill="#1a6e7c" stroke="#2aa8b6" stroke-width="0.8"/><rect x="272.4" y="1191.5" width="15.0" height="2.5" fill="#b8c8d0" /><rect x="303" y="1187" width="30.399999999999977" height="11" fill="#1a6e7c" stroke="#2aa8b6" stroke-width="0.8"/><rect x="311" y="1191.5" width="14.399999999999977" height="2.5" fill="#b8c8d0" /><rect x="340.4" y="1187" width="31.0" height="11" fill="#1a6e7c" stroke="#2aa8b6" stroke-width="0.8"/><rect x="348.4" y="1191.5" width="15.0" height="2.5" fill="#b8c8d0" /><rect x="378.4" y="1187" width="30.100000000000023" height="11" fill="#1a6e7c" stroke="#2aa8b6" stroke-width="0.8"/><rect x="386.4" y="1191.5" width="14.100000000000023" height="2.5" fill="#b8c8d0" /><rect x="415.9" y="1187" width="30.100000000000023" height="11" fill="#1a6e7c" stroke="#2aa8b6" stroke-width="0.8"/><rect x="423.9" y="1191.5" width="14.100000000000023" height="2.5" fill="#b8c8d0" /><rect x="544" y="912" width="108" height="286" fill="#123a50" /><rect x="547" y="917" width="104" height="92" fill="#0f2a42" stroke="#1f5a70" stroke-width="1" rx="4"/><rect x="551" y="920" width="4" height="4" fill="#aab" /><rect x="557" y="920" width="18" height="3" fill="#9ab" /><g fill="none" stroke="#4a5a70" stroke-width="1"><circle cx="606" cy="971" r="34"/><circle cx="606" cy="971" r="23"/><circle cx="606" cy="971" r="12"/><path d="M570 971 L642 971 M606 935 L606 1007"/></g><path d="M606 953 L618 971 L606 971" fill="none" stroke="#5a6ac0" stroke-width="1"/><rect x="601" y="926" width="8" height="3" fill="#ccd" /><rect x="560" y="970" width="7" height="3" fill="#ccd" /><rect x="601" y="1011" width="8" height="3" fill="#ccd" /><rect x="547" y="1014" width="104" height="184" fill="#0f2e48" stroke="#1f5a70" stroke-width="1" rx="4"/><rect x="551" y="1020" width="4" height="4" fill="#aab" /><rect x="557" y="1020" width="18" height="3" fill="#9ab" /><rect x="551.8" y="1031.8" width="100" height="37" fill="#0e2d5c" /><rect x="553.7" y="1034.8" width="23" height="7" fill="#d8453c" /><rect x="579" y="1036.8" width="36" height="3" fill="#7a8aa0" /><rect x="554" y="1045.3" width="40" height="2.4" fill="#c8ccd4" opacity="0.55"/><rect x="554" y="1053.5" width="95" height="2.4" fill="#c8ccd4" opacity="0.55"/><rect x="554" y="1061.7" width="92" height="2.4" fill="#c8ccd4" opacity="0.55"/><rect x="551.8" y="1072.6" width="100" height="37" fill="#3a3f48" /><rect x="553.7" y="1075.6" width="23" height="7" fill="#d8453c" /><rect x="579" y="1077.6" width="36" height="3" fill="#7a8aa0" /><rect x="554" y="1086.1" width="40" height="2.4" fill="#c8ccd4" opacity="0.55"/><rect x="554" y="1094.3" width="95" height="2.4" fill="#c8ccd4" opacity="0.55"/><rect x="554" y="1102.5" width="92" height="2.4" fill="#c8ccd4" opacity="0.55"/><rect x="551.8" y="1113.5" width="100" height="37" fill="#0e2d5c" /><rect x="553.7" y="1116.5" width="23" height="7" fill="#d8453c" /><rect x="579" y="1118.5" width="36" height="3" fill="#7a8aa0" /><rect x="554" y="1127.0" width="40" height="2.4" fill="#c8ccd4" opacity="0.55"/><rect x="554" y="1135.2" width="95" height="2.4" fill="#c8ccd4" opacity="0.55"/><rect x="554" y="1143.4" width="92" height="2.4" fill="#c8ccd4" opacity="0.55"/><rect x="551.8" y="1154.3" width="100" height="37" fill="#3a3f48" /><rect x="553.7" y="1157.3" width="23" height="7" fill="#d8453c" /><rect x="579" y="1159.3" width="36" height="3" fill="#7a8aa0" /><rect x="554" y="1167.8" width="40" height="2.4" fill="#c8ccd4" opacity="0.55"/><rect x="554" y="1176.0" width="95" height="2.4" fill="#c8ccd4" opacity="0.55"/><rect x="554" y="1184.2" width="92" height="2.4" fill="#c8ccd4" opacity="0.55"/></svg></div>
<div class="a" style="left:697.5px;top:892.5px;width:591px;height:305px;border-radius:10px;overflow:hidden;background:#0c1a36"><svg width="591" height="305" viewBox="697.5 892.5 591 305" style="position:absolute;left:0;top:0"><rect x="697.5" y="892.5" width="591" height="305" fill="#0a1432" /><rect x="1030" y="892.5" width="260" height="305" fill="#071232" /><path d="M699 1067 L762 1152 L790 1197" stroke="#0f2238" stroke-width="16" fill="none"/><path d="M699.4 906.7 L761.7 961.1 L797.2 1001.1 L823.9 1023.3 L850.6 1045 L880 1075" stroke="#1c2b47" stroke-width="2" fill="none"/><path d="M735 890 L790.6 952.2 L819.4 983.3 L850.6 1014.4 L868.3 1032.2" stroke="#1c2b47" stroke-width="2" fill="none"/><path d="M803.9 890 L837.2 927.8 L866.1 958.9" stroke="#1c2b47" stroke-width="2" fill="none"/><path d="M701.7 1021 L761.7 961" stroke="#1c2b47" stroke-width="2" fill="none"/><path d="M728.3 1045 L783.9 1005.6 L810 1000" stroke="#1c2b47" stroke-width="2" fill="none"/><path d="M863.9 903.3 L881.7 941.1 L895 952.2 L905 958" stroke="#1c2b47" stroke-width="2" fill="none"/><path d="M917 912 L939 923 L995 919" stroke="#1c2b47" stroke-width="2" fill="none"/><path d="M928.3 912.2 L955 954.4" stroke="#1c2b47" stroke-width="2" fill="none"/><path d="M728 1045 L728 1052 L761.7 1100.6 L788.3 1133.9 L799.4 1151.7" stroke="#1c2b47" stroke-width="2" fill="none"/><path d="M783.9 1122.8 L832.8 1080.6 L868.3 1045" stroke="#1c2b47" stroke-width="2" fill="none"/><path d="M761.7 1149.4 L806.1 1133.9 L868.3 1085 L917.2 1045" stroke="#1c2b47" stroke-width="2" fill="none"/><path d="M828.3 1111.7 L861.7 1109.4 L917.2 1151.7" stroke="#1c2b47" stroke-width="2" fill="none"/><path d="M868.3 1082.8 L919.4 1129.4 L930.6 1129.4 L961.7 1100.6" stroke="#1c2b47" stroke-width="2" fill="none"/><path d="M965 1066 L990 1095 L1010 1120 L1040 1150" stroke="#1c2b47" stroke-width="2" fill="none"/><path d="M1000 1070 L1030 1040 L1060 1030" stroke="#1c2b47" stroke-width="2" fill="none"/><path d="M1061 940 L1061 928 L1066 923.3 L1181 923.3" stroke="#1c2b47" stroke-width="2" fill="none"/><path d="M1063 977.8 L1091 977.8" stroke="#1c2b47" stroke-width="2" fill="none"/><path d="M1100 945 C1120 940 1130 955 1114 963 L1100 963" stroke="#1c2b47" stroke-width="2" fill="none"/><path d="M1136.7 923 L1136.7 999" stroke="#1c2b47" stroke-width="2" fill="none"/><path d="M1130 1067 L1130 1100" stroke="#1c2b47" stroke-width="2" fill="none"/><path d="M1110 1131.7 L1190 1131.7" stroke="#1c2b47" stroke-width="2" fill="none"/><path d="M1101 1159.4 L1190 1159.4" stroke="#1c2b47" stroke-width="2" fill="none"/><path d="M1183 1063 L1230 1068 L1290 1078" stroke="#1c2b47" stroke-width="2" fill="none"/><path d="M1185.6 892 L1190 1197" stroke="#1c2b47" stroke-width="2" fill="none"/><path d="M1222 900 L1290 960 M1240 892 L1290 937 M1222 940 L1290 1000 M1222 990 L1290 1050" stroke="#1c2b47" stroke-width="2" fill="none"/><path d="M1290 905 L1222 975 M1290 955 L1225 1025 M1290 1005 L1245 1050" stroke="#1c2b47" stroke-width="2" fill="none"/><path d="M1222 1090 L1260 1100 L1290 1120 M1230 1140 L1290 1150 M1240 1170 L1290 1180 M1250 1100 L1245 1180" stroke="#1c2b47" stroke-width="2" fill="none"/><path d="M700 960 L735 985" stroke="#1c2b47" stroke-width="2" fill="none"/><path d="M860 892 L880 935" stroke="#1c2b47" stroke-width="2" fill="none"/><path d="M1000 980 L1060 980" stroke="#1c2b47" stroke-width="2" fill="none"/><path d="M1050 1030 L1000 1040 L960 1060" stroke="#1c2b47" stroke-width="2" fill="none"/><path d="M1091 892 L1103 1197" stroke="#172a48" stroke-width="5" fill="none"/><path d="M1203 892 L1212 1197" stroke="#182c4a" stroke-width="9" fill="none"/><path d="M1083 1062.8 L1183 1062.8" stroke="#16284a" stroke-width="4" fill="none"/><polygon points="697.5,1150 712,1160 720,1197 697.5,1197" fill="#12394f" /><rect x="1236.0" y="1045.4" width="13.1" height="2.4" fill="#27966a" /><rect x="996.9" y="1091.4" width="15.9" height="2.4" fill="#27966a" /><rect x="754.6" y="1000.0" width="8.9" height="2.4" fill="#27966a" /><rect x="1169.6" y="1109.2" width="8.4" height="2.4" fill="#27966a" /><rect x="1269.7" y="1185.1" width="14.5" height="2.4" fill="#27966a" /><rect x="708.7" y="1062.9" width="8.6" height="2.4" fill="#27966a" /><rect x="810.3" y="982.7" width="8.3" height="2.4" fill="#27966a" /><rect x="1188.6" y="1060.4" width="14.4" height="2.4" fill="#27966a" /><rect x="989.9" y="1100.5" width="12.6" height="2.4" fill="#27966a" /><rect x="1277.5" y="1150.3" width="15.1" height="2.4" fill="#27966a" /><rect x="867.6" y="934.7" width="15.7" height="2.4" fill="#27966a" /><rect x="1191.4" y="915.2" width="10.1" height="2.4" fill="#27966a" /><rect x="1228.0" y="1046.6" width="17.8" height="2.4" fill="#27966a" /><rect x="930.5" y="935.5" width="14.3" height="2.4" fill="#27966a" /><rect x="1151.5" y="990.5" width="8.9" height="2.4" fill="#27966a" /><rect x="1139.7" y="948.0" width="10.5" height="2.4" fill="#27966a" /><rect x="758.6" y="931.8" width="16.0" height="2.4" fill="#27966a" /><rect x="803.1" y="1071.6" width="12.5" height="2.4" fill="#27966a" /><rect x="810.6" y="1119.9" width="9.3" height="2.4" fill="#27966a" /><rect x="1073.4" y="947.6" width="12.2" height="2.4" fill="#27966a" /><rect x="823.5" y="990.5" width="17.7" height="2.4" fill="#27966a" /><rect x="1166.0" y="1000.2" width="16.8" height="2.4" fill="#27966a" /><rect x="822.2" y="1025.4" width="16.5" height="2.4" fill="#27966a" /><rect x="1072.3" y="943.1" width="17.9" height="2.4" fill="#27966a" /><rect x="823.7" y="987.3" width="15.7" height="2.4" fill="#27966a" /><rect x="742.6" y="940.2" width="13.8" height="2.4" fill="#27966a" /><rect x="840.9" y="1083.4" width="11.7" height="2.4" fill="#27966a" /><rect x="980.6" y="1075.9" width="16.7" height="2.4" fill="#27966a" /><rect x="806.0" y="958.2" width="17.1" height="2.4" fill="#27966a" /><rect x="1174.3" y="984.9" width="9.9" height="2.4" fill="#27966a" /><rect x="1128.9" y="1178.3" width="10.0" height="2.4" fill="#27966a" /><rect x="1251.1" y="1162.0" width="14.0" height="2.4" fill="#27966a" /><rect x="944.4" y="944.1" width="8.4" height="2.4" fill="#27966a" /><rect x="1258.4" y="981.8" width="15.0" height="2.4" fill="#27966a" /><rect x="849.0" y="1145.6" width="14.0" height="2.4" fill="#27966a" /><rect x="1117.8" y="934.3" width="10.3" height="2.4" fill="#27966a" /><rect x="1232.1" y="972.1" width="8.2" height="2.4" fill="#27966a" /><rect x="856.1" y="1039.8" width="8.6" height="2.4" fill="#27966a" /><rect x="802.2" y="1018.3" width="13.7" height="2.4" fill="#27966a" /><rect x="776.3" y="1016.4" width="16.9" height="2.4" fill="#27966a" /><rect x="1268.7" y="1098.9" width="14.9" height="2.4" fill="#27966a" /><rect x="848" y="1006" width="3" height="14" fill="#c8ccd4" opacity="0.85"/><rect x="1095" y="1045" width="4" height="14" fill="#c8ccd4" opacity="0.85"/><rect x="1160" y="1010" width="4" height="14" fill="#c8ccd4" opacity="0.85"/><rect x="1125" y="1078" width="4" height="14" fill="#c8ccd4" opacity="0.85"/><rect x="1200" y="1150" width="4" height="14" fill="#c8ccd4" opacity="0.85"/><rect x="830" y="1052" width="16" height="4" fill="#c8ccd4" opacity="0.85"/><rect x="1055" y="1062" width="16" height="4" fill="#c8ccd4" opacity="0.85"/><rect x="1140" y="1130" width="14" height="4" fill="#c8ccd4" opacity="0.85"/><rect x="1278" y="1060" width="4" height="12" fill="#c8ccd4" opacity="0.85"/><path d="M790 978 L822 1019" stroke="#b8bcc4" stroke-width="4" opacity="0.8"/><circle cx="1134" cy="916" r="4" fill="#d8dce4"/><circle cx="1098" cy="975" r="4" fill="#d8dce4"/><circle cx="1168" cy="973" r="4" fill="#d8dce4"/><circle cx="1090" cy="1000" r="4" fill="#d8dce4"/><circle cx="848" cy="1063" r="4" fill="#e05040"/><rect x="830" y="1069" width="36" height="4" fill="#d0d4dc" /><rect x="703" y="896" width="7" height="7" fill="none" stroke="#2ab8b0" stroke-width="1.6" rx="2"/><rect x="717" y="896" width="7" height="7" fill="none" stroke="#3a9ad0" stroke-width="1.6" rx="2"/><rect x="731" y="896" width="7" height="7" fill="none" stroke="#1a8a4a" stroke-width="1.6" rx="2"/><rect x="745" y="896" width="7" height="7" fill="none" stroke="#b0b0b0" stroke-width="1.6" rx="2"/><rect x="890.5" y="895" width="60.5" height="14.5" fill="#1c5a90" rx="1.5"/><rect x="896" y="900" width="50" height="4" fill="#9ab8d8" opacity="0.7"/><rect x="868.8" y="959.2" width="195.8" height="107.8" fill="#1a2f5c" stroke="#2e5a7a" stroke-width="1"/><rect x="868.5" y="959.5" width="196.5" height="16" fill="#172a55" /><rect x="868.5" y="975.5" width="196.5" height="1" fill="#3a5a8a" /><rect x="875" y="963" width="4" height="8" fill="#3a8ad0" /><rect x="882" y="965" width="30" height="4" fill="#5a6aa0" /><rect x="914" y="965" width="80" height="4" fill="#a0a8c0" opacity="0.8"/><rect x="877.5" y="982" width="76.5" height="77.5" fill="#1f3460" stroke="#5a6070" stroke-width="1"/><defs><linearGradient id="sky" x1="0" y1="0" x2="0" y2="1"><stop offset="0" stop-color="#a8bcd8"/><stop offset="0.45" stop-color="#d4dce8"/><stop offset="1" stop-color="#c8d0dc"/></linearGradient></defs><rect x="881.5" y="985.8" width="67.7" height="69.2" fill="url(#sky)" /><ellipse cx="895" cy="994" rx="10" ry="4" fill="#e8eef6" opacity="0.8"/><ellipse cx="938" cy="992" rx="9" ry="3.5" fill="#e8eef6" opacity="0.7"/><polygon points="881.5,1045 881.5,1040 888,1040 888,1034 894,1034 894,1028 900,1028 900,1020 908,1016 908,1045" fill="#d6a672" /><polygon points="949.2,1045 949.2,1040 943,1040 943,1034 937,1034 937,1028 931,1028 931,1020 923,1016 923,1045" fill="#d6a672" /><rect x="908" y="1018" width="15" height="27" fill="#c8d0e0" /><circle cx="915.5" cy="1008" r="11" fill="#2a2418" stroke="#c8a050" stroke-width="1.6"/><circle cx="915.5" cy="1008" r="4" fill="#8a6040"/><path d="M896 1013 L903 1017 M935 1013 L928 1017" stroke="#2a2418" stroke-width="3.5"/><polygon points="906,1017 925,1017 921,1024 910,1024" fill="#2a2418" /><circle cx="920" cy="1037" r="3.5" fill="#3a4a30"/><rect x="881.5" y="1045" width="67.7" height="10" fill="#6a6560" /><rect x="914.5" y="1046" width="1.5" height="9" fill="#d0b040" /><rect x="963.5" y="984.5" width="17" height="3.2" fill="#b8c0d0" opacity="0.85"/><rect x="983" y="984.5" width="26" height="3.2" fill="#4a6aa8" opacity="0.8"/><rect x="963.5" y="995.0" width="17" height="3.2" fill="#b8c0d0" opacity="0.85"/><rect x="983" y="995.0" width="16" height="3.2" fill="#4a6aa8" opacity="0.8"/><rect x="963.5" y="1005.5" width="17" height="3.2" fill="#b8c0d0" opacity="0.85"/><rect x="983" y="1005.5" width="34" height="3.2" fill="#4a6aa8" opacity="0.8"/><rect x="963.5" y="1016.0" width="17" height="3.2" fill="#b8c0d0" opacity="0.85"/><rect x="983" y="1016.0" width="4" height="3.2" fill="#b0b8c8" opacity="0.8"/><rect x="963.5" y="1026.5" width="17" height="3.2" fill="#b8c0d0" opacity="0.85"/><rect x="983" y="1026.5" width="10" height="3.2" fill="#b0b8c8" opacity="0.8"/><rect x="963.5" y="1037.0" width="17" height="3.2" fill="#b8c0d0" opacity="0.85"/><rect x="983" y="1037.0" width="56" height="3.2" fill="#b0b8c8" opacity="0.8"/><circle cx="1013.7" cy="1054.3" r="3.8" fill="#3aa8e0"/><rect x="1024.8" y="1048.7" width="32.7" height="11.2" fill="none" stroke="#8a8aa0" stroke-width="0.8" rx="1.5"/><rect x="1030" y="1053" width="22" height="3" fill="#c8d0e0" /><path d="M963 1068 L966 1075 L969 1068" fill="none" stroke="#3a6aa0" stroke-width="1"/><defs><linearGradient id="gl2" x1="0" y1="0" x2="0" y2="1"><stop offset="0" stop-color="#1b7684"/><stop offset="0.25" stop-color="#145a68"/><stop offset="1" stop-color="#0e3c4c"/></linearGradient></defs><ellipse cx="922.5" cy="1184" rx="189.5" ry="34.5" fill="url(#gl2)"/><rect x="788.4" y="1168" width="45.60000000000002" height="19.8" fill="#177282" stroke="#33b0be" stroke-width="1.2"/><rect x="799.4" y="1176.5" width="23.600000000000023" height="3.5" fill="#c0ccd6" /><rect x="843" y="1168" width="45" height="19.8" fill="#177282" stroke="#33b0be" stroke-width="1.2"/><rect x="854" y="1176.5" width="23" height="3.5" fill="#c0ccd6" /><rect x="897.8" y="1168" width="45.0" height="19.8" fill="#177282" stroke="#33b0be" stroke-width="1.2"/><rect x="908.8" y="1176.5" width="23.0" height="3.5" fill="#c0ccd6" /><rect x="951.6" y="1168" width="45.0" height="19.8" fill="#177282" stroke="#33b0be" stroke-width="1.2"/><rect x="962.6" y="1176.5" width="23.0" height="3.5" fill="#c0ccd6" /><rect x="1005.7" y="1168" width="45.59999999999991" height="19.8" fill="#177282" stroke="#33b0be" stroke-width="1.2"/><rect x="1016.7" y="1176.5" width="23.59999999999991" height="3.5" fill="#c0ccd6" /><polygon points="915,1189 925,1189 920,1195" fill="#e0e4e8" /></svg></div>
<div class="a" style="left:60.5px;top:1242.5px;width:590.5px;height:305px;border-radius:10px;overflow:hidden;background:#1b2540"><svg width="590.5" height="305" viewBox="60.5 1242.5 590.5 305" style="position:absolute;left:0;top:0"><rect x="60.5" y="1242.5" width="590.5" height="305" fill="#1e2740" /><rect x="60.5" y="1242.5" width="590.5" height="25.5" fill="#1c2238" /><rect x="60.5" y="1268" width="7" height="280" fill="#1a2136" /><text x="59.5" y="1257.5" font-size="9" font-weight="bold" fill="#e0801e" font-family="Liberation Sans, sans-serif" textLength="63">fecbe 飛 天纪电气</text><rect x="126" y="1248.5" width="59" height="2.4" fill="#2a9a9a" opacity="0.8"/><rect x="129" y="1254.5" width="35" height="2.4" fill="#2a9a9a" opacity="0.8"/><rect x="193.5" y="1248.5" width="74.5" height="10.5" fill="#3a4256" rx="5"/><rect x="200" y="1252" width="30" height="3" fill="#8890a0" /><rect x="510" y="1251" width="3" height="4" fill="#2ab0a8" /><rect x="518" y="1251" width="8" height="4" fill="#2ab0a8" /><rect x="537" y="1251" width="6" height="4" fill="#2ab0a8" /><rect x="554" y="1251" width="14" height="4" fill="#2ab0a8" /><rect x="580" y="1251" width="18" height="4" fill="#2ab0a8" /><rect x="610" y="1251" width="12" height="4" fill="#2ab0a8" /><rect x="637" y="1251" width="12" height="4" fill="#2ab0a8" /><rect x="71.3" y="1276.5" width="34" height="3" fill="#9aa0b0" opacity="0.85"/><rect x="106" y="1276.5" width="17.5" height="3" fill="#2ab0a8" /><rect x="134.7" y="1273" width="22" height="10.3" fill="none" stroke="#2aa0a0" stroke-width="0.8"/><rect x="140" y="1277" width="11" height="2.4" fill="#8ac0c8" opacity="0.8"/><rect x="68" y="1287" width="58" height="13.5" fill="#1fa89a" /><rect x="127" y="1287" width="58" height="13.5" fill="#8a8a8a" /><rect x="186" y="1287" width="57.5" height="13.5" fill="#1fa89a" /><rect x="86" y="1292" width="20" height="3" fill="#d8e0e8" opacity="0.8"/><rect x="145" y="1292" width="20" height="3" fill="#d8e0e8" opacity="0.8"/><rect x="205" y="1292" width="20" height="3" fill="#d8e0e8" opacity="0.8"/><rect x="68" y="1304" width="584" height="62" fill="#1f2944" /><rect x="78" y="1311" width="248" height="11" fill="#2a4254" /><rect x="329" y="1311" width="249" height="11" fill="#2a4254" /><rect x="581" y="1311" width="71" height="11" fill="#2a4254" /><rect x="83" y="1315" width="30" height="3" fill="#8898a8" /><rect x="334" y="1315" width="60" height="3" fill="#8898a8" /><rect x="585" y="1315" width="25" height="3" fill="#8898a8" /><rect x="78" y="1326" width="27" height="10" fill="#3d85c6" /><rect x="82" y="1330" width="19" height="2.5" fill="#e0ecf8" opacity="0.7"/><rect x="108" y="1326" width="54" height="10" fill="#e6ecf4" /><rect x="112" y="1330" width="46" height="2.5" fill="#3a70b0" opacity="0.7"/><rect x="166" y="1326" width="24" height="10" fill="#e6ecf4" /><rect x="170" y="1330" width="16" height="2.5" fill="#3a70b0" opacity="0.7"/><rect x="193" y="1326" width="32" height="10" fill="#e6ecf4" /><rect x="197" y="1330" width="24" height="2.5" fill="#3a70b0" opacity="0.7"/><rect x="228" y="1326" width="40" height="10" fill="#e6ecf4" /><rect x="232" y="1330" width="32" height="2.5" fill="#3a70b0" opacity="0.7"/><rect x="272" y="1326" width="36" height="10" fill="#e6ecf4" /><rect x="276" y="1330" width="28" height="2.5" fill="#3a70b0" opacity="0.7"/><rect x="312" y="1326" width="27" height="10" fill="#e6ecf4" /><rect x="316" y="1330" width="19" height="2.5" fill="#3a70b0" opacity="0.7"/><rect x="343" y="1326" width="35" height="10" fill="#e6ecf4" /><rect x="347" y="1330" width="27" height="2.5" fill="#3a70b0" opacity="0.7"/><rect x="383" y="1326" width="35" height="10" fill="#e6ecf4" /><rect x="387" y="1330" width="27" height="2.5" fill="#3a70b0" opacity="0.7"/><rect x="423" y="1326" width="51" height="10" fill="#e6ecf4" /><rect x="427" y="1330" width="43" height="2.5" fill="#3a70b0" opacity="0.7"/><rect x="479" y="1326" width="50" height="10" fill="#e6ecf4" /><rect x="483" y="1330" width="42" height="2.5" fill="#3a70b0" opacity="0.7"/><rect x="534" y="1326" width="25" height="10" fill="#e6ecf4" /><rect x="538" y="1330" width="17" height="2.5" fill="#3a70b0" opacity="0.7"/><rect x="563" y="1326" width="29" height="10" fill="#e6ecf4" /><rect x="567" y="1330" width="21" height="2.5" fill="#3a70b0" opacity="0.7"/><rect x="595" y="1326" width="30" height="10" fill="#e6ecf4" /><rect x="599" y="1330" width="22" height="2.5" fill="#3a70b0" opacity="0.7"/><rect x="628" y="1326" width="24" height="10" fill="#e6ecf4" /><rect x="632" y="1330" width="16" height="2.5" fill="#3a70b0" opacity="0.7"/><rect x="644" y="1327" width="7" height="7" fill="#e8e8e8" rx="3.5"/><rect x="80" y="1343" width="5" height="3" fill="#ddd" /><rect x="87" y="1343" width="14" height="3" fill="#aab" /><rect x="114" y="1343" width="5" height="3" fill="#ddd" /><rect x="122" y="1343" width="14" height="3" fill="#aab" /><rect x="140" y="1343" width="5" height="3" fill="#3a8ad0" /><rect x="147" y="1343" width="14" height="3" fill="#3a8ad0" /><rect x="190" y="1343" width="5" height="3" fill="#3a8ad0" /><rect x="198" y="1343" width="14" height="3" fill="#3a8ad0" /><rect x="215" y="1343" width="5" height="3" fill="#ddd" /><rect x="222" y="1343" width="14" height="3" fill="#aab" /><rect x="244" y="1343" width="5" height="3" fill="#ddd" /><rect x="251" y="1343" width="14" height="3" fill="#aab" /><rect x="78" y="1350.5" width="18" height="10.5" fill="none" stroke="#1f8a88" stroke-width="0.8"/><rect x="82" y="1354.5" width="10" height="2.5" fill="#7ab8c0" opacity="0.7"/><rect x="100" y="1350.5" width="18" height="10.5" fill="none" stroke="#1f8a88" stroke-width="0.8"/><rect x="104" y="1354.5" width="10" height="2.5" fill="#7ab8c0" opacity="0.7"/><rect x="124" y="1350.5" width="26" height="10.5" fill="none" stroke="#1f8a88" stroke-width="0.8"/><rect x="128" y="1354.5" width="18" height="2.5" fill="#7ab8c0" opacity="0.7"/><rect x="155" y="1350.5" width="27" height="10.5" fill="none" stroke="#1f8a88" stroke-width="0.8"/><rect x="159" y="1354.5" width="19" height="2.5" fill="#7ab8c0" opacity="0.7"/><rect x="68" y="1366" width="584" height="2" fill="#182034" /><circle cx="80" cy="1379" r="2.5" fill="none" stroke="#2ab0a8" stroke-width="0.8"/><rect x="85" y="1377.5" width="25" height="3" fill="#9aa8b8" /><rect x="80" y="1398" width="8" height="2.6" fill="#b8bcc8" opacity="0.7"/><rect x="118" y="1398" width="25" height="2.6" fill="#b8bcc8" opacity="0.7"/><rect x="200" y="1398" width="20" height="2.6" fill="#b8bcc8" opacity="0.7"/><rect x="287" y="1398" width="14" height="2.6" fill="#b8bcc8" opacity="0.7"/><rect x="322" y="1398" width="16" height="2.6" fill="#b8bcc8" opacity="0.7"/><rect x="390" y="1398" width="40" height="2.6" fill="#b8bcc8" opacity="0.7"/><rect x="480" y="1398" width="60" height="2.6" fill="#b8bcc8" opacity="0.7"/><rect x="590" y="1398" width="33" height="2.6" fill="#b8bcc8" opacity="0.7"/><rect x="628" y="1398" width="12" height="2.6" fill="#b8bcc8" opacity="0.7"/><rect x="75.8" y="1483.8" width="576" height="16.2" fill="#2d3549" /><rect x="75" y="1406.7" width="577" height="0.6" fill="#2a3450" /><rect x="277" y="1406.8000000000002" width="39" height="14.8" fill="#d02a35" rx="2"/><rect x="287" y="1412.9" width="19" height="2.8" fill="#f0d0d0" opacity="0.8"/><rect x="84" y="1412.9" width="3" height="3" fill="#aab" /><rect x="118" y="1412.9" width="22" height="2.6" fill="#9aa0b0" /><rect x="209" y="1412.9" width="22" height="2.8" fill="#d0d4dc" /><rect x="326" y="1412.9" width="13" height="2.6" fill="#d04040" /><rect x="398" y="1412.9" width="13" height="2.6" fill="#d0d4dc" /><rect x="482" y="1412.9" width="70" height="2.6" fill="#b0b8c8" opacity="0.7"/><rect x="580" y="1412.9" width="44" height="2.6" fill="#9aa0b0" opacity="0.7"/><rect x="637" y="1412.9" width="8" height="2.6" fill="#2ab070" /><rect x="75" y="1422.1000000000001" width="577" height="0.6" fill="#2a3450" /><rect x="277" y="1422.2000000000003" width="39" height="14.8" fill="#d02a35" rx="2"/><rect x="287" y="1428.3000000000002" width="19" height="2.8" fill="#f0d0d0" opacity="0.8"/><rect x="84" y="1428.3000000000002" width="3" height="3" fill="#aab" /><rect x="118" y="1428.3000000000002" width="22" height="2.6" fill="#9aa0b0" /><rect x="209" y="1428.3000000000002" width="22" height="2.8" fill="#d0d4dc" /><rect x="326" y="1428.3000000000002" width="13" height="2.6" fill="#d04040" /><rect x="352" y="1428.3000000000002" width="98" height="2.6" fill="#b0b8c8" opacity="0.75"/><rect x="482" y="1428.3000000000002" width="70" height="2.6" fill="#b0b8c8" opacity="0.7"/><rect x="580" y="1428.3000000000002" width="44" height="2.6" fill="#9aa0b0" opacity="0.7"/><rect x="637" y="1428.3000000000002" width="8" height="2.6" fill="#2ab070" /><rect x="75" y="1437.5" width="577" height="0.6" fill="#2a3450" /><rect x="277" y="1437.6000000000001" width="39" height="14.8" fill="#d02a35" rx="2"/><rect x="287" y="1443.7" width="19" height="2.8" fill="#f0d0d0" opacity="0.8"/><rect x="84" y="1443.7" width="3" height="3" fill="#aab" /><rect x="118" y="1443.7" width="22" height="2.6" fill="#9aa0b0" /><rect x="209" y="1443.7" width="22" height="2.8" fill="#d0d4dc" /><rect x="326" y="1443.7" width="13" height="2.6" fill="#d04040" /><rect x="352" y="1443.7" width="98" height="2.6" fill="#b0b8c8" opacity="0.75"/><rect x="482" y="1443.7" width="70" height="2.6" fill="#b0b8c8" opacity="0.7"/><rect x="580" y="1443.7" width="44" height="2.6" fill="#9aa0b0" opacity="0.7"/><rect x="637" y="1443.7" width="8" height="2.6" fill="#2ab070" /><rect x="75" y="1452.9" width="577" height="0.6" fill="#2a3450" /><rect x="277" y="1453.0000000000002" width="39" height="14.8" fill="#d02a35" rx="2"/><rect x="287" y="1459.1000000000001" width="19" height="2.8" fill="#f0d0d0" opacity="0.8"/><rect x="84" y="1459.1000000000001" width="3" height="3" fill="#aab" /><rect x="118" y="1459.1000000000001" width="22" height="2.6" fill="#9aa0b0" /><rect x="209" y="1459.1000000000001" width="22" height="2.8" fill="#d0d4dc" /><rect x="326" y="1459.1000000000001" width="13" height="2.6" fill="#d04040" /><rect x="352" y="1459.1000000000001" width="98" height="2.6" fill="#b0b8c8" opacity="0.75"/><rect x="482" y="1459.1000000000001" width="70" height="2.6" fill="#b0b8c8" opacity="0.7"/><rect x="580" y="1459.1000000000001" width="44" height="2.6" fill="#9aa0b0" opacity="0.7"/><rect x="637" y="1459.1000000000001" width="8" height="2.6" fill="#2ab070" /><rect x="75" y="1468.3" width="577" height="0.6" fill="#2a3450" /><rect x="277" y="1468.4" width="39" height="14.8" fill="#d02a35" rx="2"/><rect x="287" y="1474.5" width="19" height="2.8" fill="#f0d0d0" opacity="0.8"/><rect x="84" y="1474.5" width="3" height="3" fill="#aab" /><rect x="118" y="1474.5" width="22" height="2.6" fill="#9aa0b0" /><rect x="209" y="1474.5" width="22" height="2.8" fill="#d0d4dc" /><rect x="326" y="1474.5" width="13" height="2.6" fill="#d04040" /><rect x="352" y="1474.5" width="98" height="2.6" fill="#b0b8c8" opacity="0.75"/><rect x="482" y="1474.5" width="70" height="2.6" fill="#b0b8c8" opacity="0.7"/><rect x="580" y="1474.5" width="44" height="2.6" fill="#9aa0b0" opacity="0.7"/><rect x="637" y="1474.5" width="8" height="2.6" fill="#2ab070" /><rect x="75" y="1483.7" width="577" height="0.6" fill="#2a3450" /><rect x="277" y="1483.8000000000002" width="39" height="14.8" fill="#d02a35" rx="2"/><rect x="287" y="1489.9" width="19" height="2.8" fill="#f0d0d0" opacity="0.8"/><rect x="84" y="1489.9" width="3" height="3" fill="#aab" /><rect x="118" y="1489.9" width="22" height="2.6" fill="#9aa0b0" /><rect x="209" y="1489.9" width="22" height="2.8" fill="#d0d4dc" /><rect x="326" y="1489.9" width="13" height="2.6" fill="#d04040" /><rect x="352" y="1489.9" width="98" height="2.6" fill="#b0b8c8" opacity="0.75"/><rect x="482" y="1489.9" width="70" height="2.6" fill="#b0b8c8" opacity="0.7"/><rect x="580" y="1489.9" width="44" height="2.6" fill="#9aa0b0" opacity="0.7"/><rect x="637" y="1489.9" width="8" height="2.6" fill="#2ab070" /><defs><linearGradient id="gl3" x1="0" y1="0" x2="0" y2="1"><stop offset="0" stop-color="#1a7a86"/><stop offset="0.3" stop-color="#156a78"/><stop offset="1" stop-color="#115866"/></linearGradient></defs><path d="M216 1548 C230.0 1525.2 290.5 1518 365.0 1518 C439.5 1518 500.0 1525.2 514 1548 Z" fill="url(#gl3)" /><rect x="272.9" y="1530.7" width="32.30000000000001" height="11.8" fill="#177282" stroke="#33b0be" stroke-width="1"/><rect x="280.9" y="1535.5" width="16.30000000000001" height="2.5" fill="#c0ccd6" /><rect x="310.3" y="1530.7" width="31.5" height="11.8" fill="#177282" stroke="#33b0be" stroke-width="1"/><rect x="318.3" y="1535.5" width="15.5" height="2.5" fill="#c0ccd6" /><rect x="348" y="1530.7" width="31.30000000000001" height="11.8" fill="#177282" stroke="#33b0be" stroke-width="1"/><rect x="356" y="1535.5" width="15.300000000000011" height="2.5" fill="#c0ccd6" /><rect x="384.9" y="1530.7" width="31.5" height="11.8" fill="#177282" stroke="#33b0be" stroke-width="1"/><rect x="392.9" y="1535.5" width="15.5" height="2.5" fill="#c0ccd6" /><rect x="422" y="1530.7" width="31.600000000000023" height="11.8" fill="#177282" stroke="#33b0be" stroke-width="1"/><rect x="430" y="1535.5" width="15.600000000000023" height="2.5" fill="#c0ccd6" /></svg></div>
<div class="a" style="left:697.5px;top:1242.5px;width:591px;height:305px;border-radius:10px;overflow:hidden;background:#1b2540"><svg width="591" height="305" viewBox="697.5 1242.5 591 305" style="position:absolute;left:0;top:0"><rect x="697.5" y="1242.5" width="591" height="305" fill="#1f2842" /><rect x="697.5" y="1242.5" width="591" height="25" fill="#1c2239" /><rect x="697.5" y="1267" width="591" height="18.5" fill="#1a2036" /><rect x="697.5" y="1285.5" width="3" height="262" fill="#1a2136" /><text x="697" y="1257" font-size="9" font-weight="bold" fill="#e0801e" font-family="Liberation Sans, sans-serif" textLength="62">ecbe 飛 天纪电气</text><rect x="760" y="1248" width="59" height="2.4" fill="#2a9a9a" opacity="0.8"/><rect x="763" y="1254" width="35" height="2.4" fill="#2a9a9a" opacity="0.8"/><rect x="826" y="1248" width="74" height="10.5" fill="#3a4256" rx="5"/><rect x="832" y="1251.5" width="30" height="3" fill="#8890a0" /><rect x="1136" y="1251" width="3" height="4" fill="#2ab0a8" /><rect x="1150" y="1251" width="8" height="4" fill="#2ab0a8" /><rect x="1170" y="1251" width="6" height="4" fill="#2ab0a8" /><rect x="1187" y="1251" width="14" height="4" fill="#2ab0a8" /><rect x="1214" y="1251" width="18" height="4" fill="#2ab0a8" /><rect x="1248" y="1251" width="12" height="4" fill="#2ab0a8" /><rect x="1272" y="1251" width="14" height="4" fill="#2ab0a8" /><rect x="704" y="1276" width="14" height="3" fill="#9aa0b0" /><rect x="719" y="1276" width="16" height="3" fill="#2ab0a8" /><rect x="747" y="1272" width="23" height="10" fill="none" stroke="#2aa0a0" stroke-width="0.8"/><circle cx="713" cy="1296" r="2.5" fill="none" stroke="#2ab0a8" stroke-width="0.8"/><rect x="717" y="1294.5" width="22" height="3" fill="#9aa8b8" /><rect x="700" y="1305" width="588" height="0.8" fill="#283250" /><rect x="709" y="1313" width="48" height="10" fill="#2b3f55" /><rect x="714" y="1316.5" width="24.0" height="2.6" fill="#8898b0" opacity="0.8"/><rect x="758" y="1313" width="48" height="10" fill="#2b3f55" /><rect x="763" y="1316.5" width="24.0" height="2.6" fill="#8898b0" opacity="0.8"/><rect x="808" y="1313" width="47" height="10" fill="#2b3f55" /><rect x="813" y="1316.5" width="23.5" height="2.6" fill="#8898b0" opacity="0.8"/><rect x="857" y="1313" width="74" height="10" fill="#2b3f55" /><rect x="862" y="1316.5" width="37.0" height="2.6" fill="#8898b0" opacity="0.8"/><rect x="1192" y="1316" width="38" height="2.6" fill="#b0b8c8" opacity="0.8"/><rect x="1232" y="1315.5" width="4" height="4" fill="#3a8ad0" /><rect x="1239" y="1316" width="8" height="2.6" fill="#3a8ad0" /><rect x="1258" y="1315.5" width="4" height="4" fill="#e0e0e0" /><rect x="1264" y="1316" width="4" height="2.6" fill="#8890a0" /><rect x="1280" y="1315.5" width="4" height="4" fill="#e0e0e0" /><rect x="709" y="1327" width="26" height="10" fill="#3d86c8" /><rect x="713" y="1330.8" width="18" height="2.5" fill="#d8e8f8" opacity="0.7"/><rect x="737" y="1327" width="25" height="10" fill="#3d86c8" /><rect x="741" y="1330.8" width="17" height="2.5" fill="#d8e8f8" opacity="0.7"/><rect x="765" y="1327" width="32" height="10" fill="#3d86c8" /><rect x="769" y="1330.8" width="24" height="2.5" fill="#d8e8f8" opacity="0.7"/><rect x="800" y="1327" width="25" height="10" fill="#3d86c8" /><rect x="804" y="1330.8" width="17" height="2.5" fill="#d8e8f8" opacity="0.7"/><rect x="828" y="1327" width="18" height="10" fill="#3d86c8" /><rect x="832" y="1330.8" width="10" height="2.5" fill="#d8e8f8" opacity="0.7"/><rect x="849" y="1327" width="28" height="10" fill="#3d86c8" /><rect x="853" y="1330.8" width="20" height="2.5" fill="#d8e8f8" opacity="0.7"/><rect x="880" y="1327" width="32" height="10" fill="#3d86c8" /><rect x="884" y="1330.8" width="24" height="2.5" fill="#d8e8f8" opacity="0.7"/><rect x="715" y="1348" width="6" height="2.6" fill="#b8bcc8" opacity="0.8"/><rect x="735" y="1346.5" width="4" height="4" fill="#fff" opacity="0.8"/><rect x="769" y="1348" width="18" height="2.6" fill="#b8bcc8" opacity="0.8"/><rect x="830" y="1348" width="24" height="2.6" fill="#b8bcc8" opacity="0.8"/><rect x="893" y="1348" width="26" height="2.6" fill="#b8bcc8" opacity="0.8"/><rect x="967" y="1348" width="20" height="2.6" fill="#b8bcc8" opacity="0.8"/><rect x="1024" y="1348" width="30" height="2.6" fill="#b8bcc8" opacity="0.8"/><rect x="1087" y="1348" width="8" height="2.6" fill="#b8bcc8" opacity="0.8"/><rect x="1129" y="1348" width="28" height="2.6" fill="#b8bcc8" opacity="0.8"/><rect x="1181" y="1348" width="14" height="2.6" fill="#b8bcc8" opacity="0.8"/><rect x="1237" y="1348" width="8" height="2.6" fill="#b8bcc8" opacity="0.8"/><rect x="710" y="1356.4" width="578" height="0.6" fill="#2a3554" /><rect x="717" y="1363.7" width="3" height="2.6" fill="#9aa0b0" /><rect x="734.5" y="1362.7" width="4.5" height="4.5" fill="#e8e8e8" /><rect x="750" y="1363.7" width="54" height="2.6" fill="#b8bcc8" opacity="0.75"/><rect x="833" y="1363.7" width="21" height="2.6" fill="#9aa0b0" opacity="0.8"/><rect x="895" y="1363.7" width="22" height="2.6" fill="#c8ccd4" opacity="0.8"/><rect x="965" y="1363.7" width="24" height="2.6" fill="#c8ccd4" opacity="0.7"/><rect x="1021" y="1363.7" width="2" height="2.6" fill="#3a6ab0" /><rect x="1027.8" y="1362.0" width="13" height="6" fill="#e8e8e8" rx="3"/><rect x="1062" y="1363.7" width="53" height="2.6" fill="#9aa0b0" opacity="0.7"/><rect x="1127" y="1363.7" width="33" height="2.6" fill="#9aa0b0" opacity="0.7"/><rect x="1176" y="1363.7" width="12" height="2.6" fill="#c8ccd4" opacity="0.8"/><rect x="1209" y="1360.5" width="18.5" height="9" fill="#e8e8e8" /><rect x="1214" y="1363.8" width="8" height="2.4" fill="#9aa0b0" /><rect x="1232" y="1360.5" width="18.5" height="9" fill="#e8e8e8" /><rect x="1237" y="1363.8" width="8" height="2.4" fill="#9aa0b0" /><rect x="1254" y="1360.5" width="18.5" height="9" fill="#e8e8e8" /><rect x="1259" y="1363.8" width="8" height="2.4" fill="#9aa0b0" /><rect x="710" y="1373.6000000000001" width="578" height="0.6" fill="#2a3554" /><rect x="717" y="1380.9" width="3" height="2.6" fill="#9aa0b0" /><rect x="734.5" y="1379.9" width="4.5" height="4.5" fill="#e8e8e8" /><rect x="750" y="1380.9" width="54" height="2.6" fill="#b8bcc8" opacity="0.75"/><rect x="833" y="1380.9" width="21" height="2.6" fill="#9aa0b0" opacity="0.8"/><rect x="895" y="1380.9" width="22" height="2.6" fill="#c8ccd4" opacity="0.8"/><rect x="965" y="1380.9" width="24" height="2.6" fill="#c8ccd4" opacity="0.7"/><rect x="1021" y="1380.9" width="2" height="2.6" fill="#3a6ab0" /><rect x="1027.8" y="1379.2" width="13" height="6" fill="#e8e8e8" rx="3"/><rect x="1127" y="1380.9" width="33" height="2.6" fill="#9aa0b0" opacity="0.7"/><rect x="1176" y="1380.9" width="12" height="2.6" fill="#c8ccd4" opacity="0.8"/><rect x="1209" y="1377.7" width="18.5" height="9" fill="#e8e8e8" /><rect x="1214" y="1381.0" width="8" height="2.4" fill="#9aa0b0" /><rect x="1232" y="1377.7" width="18.5" height="9" fill="#e8e8e8" /><rect x="1237" y="1381.0" width="8" height="2.4" fill="#9aa0b0" /><rect x="1254" y="1377.7" width="18.5" height="9" fill="#e8e8e8" /><rect x="1259" y="1381.0" width="8" height="2.4" fill="#9aa0b0" /><rect x="710" y="1390.8000000000002" width="578" height="0.6" fill="#2a3554" /><rect x="717" y="1398.1000000000001" width="3" height="2.6" fill="#9aa0b0" /><rect x="734.5" y="1397.1000000000001" width="4.5" height="4.5" fill="#e8e8e8" /><rect x="763" y="1398.1000000000001" width="30" height="2.6" fill="#b8bcc8" opacity="0.75"/><rect x="833" y="1398.1000000000001" width="21" height="2.6" fill="#9aa0b0" opacity="0.8"/><rect x="895" y="1398.1000000000001" width="22" height="2.6" fill="#c8ccd4" opacity="0.8"/><rect x="965" y="1398.1000000000001" width="24" height="2.6" fill="#c8ccd4" opacity="0.7"/><rect x="1021" y="1398.1000000000001" width="2" height="2.6" fill="#3a6ab0" /><rect x="1027.8" y="1396.4" width="13" height="6" fill="#e8e8e8" rx="3"/><rect x="1127" y="1398.1000000000001" width="33" height="2.6" fill="#9aa0b0" opacity="0.7"/><rect x="1176" y="1398.1000000000001" width="12" height="2.6" fill="#c8ccd4" opacity="0.8"/><rect x="1209" y="1394.9" width="18.5" height="9" fill="#e8e8e8" /><rect x="1214" y="1398.2" width="8" height="2.4" fill="#9aa0b0" /><rect x="1232" y="1394.9" width="18.5" height="9" fill="#e8e8e8" /><rect x="1237" y="1398.2" width="8" height="2.4" fill="#9aa0b0" /><rect x="1254" y="1394.9" width="18.5" height="9" fill="#e8e8e8" /><rect x="1259" y="1398.2" width="8" height="2.4" fill="#9aa0b0" /><rect x="710" y="1408.0" width="578" height="0.6" fill="#2a3554" /><rect x="717" y="1415.3" width="3" height="2.6" fill="#9aa0b0" /><rect x="734.5" y="1414.3" width="4.5" height="4.5" fill="#e8e8e8" /><rect x="750" y="1415.3" width="54" height="2.6" fill="#b8bcc8" opacity="0.75"/><rect x="833" y="1415.3" width="21" height="2.6" fill="#9aa0b0" opacity="0.8"/><rect x="895" y="1415.3" width="22" height="2.6" fill="#c8ccd4" opacity="0.8"/><rect x="965" y="1415.3" width="24" height="2.6" fill="#c8ccd4" opacity="0.7"/><rect x="1021" y="1415.3" width="2" height="2.6" fill="#3a6ab0" /><rect x="1027.8" y="1413.6" width="13" height="6" fill="#e8e8e8" rx="3"/><rect x="1127" y="1415.3" width="33" height="2.6" fill="#9aa0b0" opacity="0.7"/><rect x="1176" y="1415.3" width="12" height="2.6" fill="#c8ccd4" opacity="0.8"/><rect x="1209" y="1412.1" width="18.5" height="9" fill="#e8e8e8" /><rect x="1214" y="1415.3999999999999" width="8" height="2.4" fill="#9aa0b0" /><rect x="1232" y="1412.1" width="18.5" height="9" fill="#e8e8e8" /><rect x="1237" y="1415.3999999999999" width="8" height="2.4" fill="#9aa0b0" /><rect x="1254" y="1412.1" width="18.5" height="9" fill="#e8e8e8" /><rect x="1259" y="1415.3999999999999" width="8" height="2.4" fill="#9aa0b0" /><rect x="710" y="1425.2" width="578" height="0.6" fill="#2a3554" /><rect x="717" y="1432.5" width="3" height="2.6" fill="#9aa0b0" /><rect x="734.5" y="1431.5" width="4.5" height="4.5" fill="#e8e8e8" /><rect x="750" y="1432.5" width="54" height="2.6" fill="#b8bcc8" opacity="0.75"/><rect x="833" y="1432.5" width="21" height="2.6" fill="#9aa0b0" opacity="0.8"/><rect x="895" y="1432.5" width="22" height="2.6" fill="#c8ccd4" opacity="0.8"/><rect x="965" y="1432.5" width="24" height="2.6" fill="#c8ccd4" opacity="0.7"/><rect x="1021" y="1432.5" width="2" height="2.6" fill="#3a6ab0" /><rect x="1027.8" y="1430.8" width="13" height="6" fill="#e8e8e8" rx="3"/><rect x="1127" y="1432.5" width="33" height="2.6" fill="#9aa0b0" opacity="0.7"/><rect x="1176" y="1432.5" width="12" height="2.6" fill="#c8ccd4" opacity="0.8"/><rect x="1209" y="1429.3" width="18.5" height="9" fill="#e8e8e8" /><rect x="1214" y="1432.6" width="8" height="2.4" fill="#9aa0b0" /><rect x="1232" y="1429.3" width="18.5" height="9" fill="#e8e8e8" /><rect x="1237" y="1432.6" width="8" height="2.4" fill="#9aa0b0" /><rect x="1254" y="1429.3" width="18.5" height="9" fill="#e8e8e8" /><rect x="1259" y="1432.6" width="8" height="2.4" fill="#9aa0b0" /><rect x="710" y="1442.4" width="578" height="0.6" fill="#2a3554" /><rect x="717" y="1449.7" width="3" height="2.6" fill="#9aa0b0" /><rect x="734.5" y="1448.7" width="4.5" height="4.5" fill="#e8e8e8" /><rect x="750" y="1449.7" width="54" height="2.6" fill="#b8bcc8" opacity="0.75"/><rect x="833" y="1449.7" width="21" height="2.6" fill="#9aa0b0" opacity="0.8"/><rect x="895" y="1449.7" width="22" height="2.6" fill="#c8ccd4" opacity="0.8"/><rect x="965" y="1449.7" width="24" height="2.6" fill="#c8ccd4" opacity="0.7"/><rect x="1021" y="1449.7" width="2" height="2.6" fill="#3a6ab0" /><rect x="1027.8" y="1448.0" width="13" height="6" fill="#e8e8e8" rx="3"/><rect x="1062" y="1449.7" width="53" height="2.6" fill="#9aa0b0" opacity="0.7"/><rect x="1127" y="1449.7" width="33" height="2.6" fill="#9aa0b0" opacity="0.7"/><rect x="1176" y="1449.7" width="12" height="2.6" fill="#c8ccd4" opacity="0.8"/><rect x="1209" y="1446.5" width="18.5" height="9" fill="#e8e8e8" /><rect x="1214" y="1449.8" width="8" height="2.4" fill="#9aa0b0" /><rect x="1232" y="1446.5" width="18.5" height="9" fill="#e8e8e8" /><rect x="1237" y="1449.8" width="8" height="2.4" fill="#9aa0b0" /><rect x="1254" y="1446.5" width="18.5" height="9" fill="#e8e8e8" /><rect x="1259" y="1449.8" width="8" height="2.4" fill="#9aa0b0" /><rect x="710" y="1459.6000000000001" width="578" height="0.6" fill="#2a3554" /><rect x="717" y="1466.9" width="3" height="2.6" fill="#9aa0b0" /><rect x="734.5" y="1465.9" width="4.5" height="4.5" fill="#e8e8e8" /><rect x="763" y="1466.9" width="30" height="2.6" fill="#b8bcc8" opacity="0.75"/><rect x="833" y="1466.9" width="21" height="2.6" fill="#9aa0b0" opacity="0.8"/><rect x="895" y="1466.9" width="22" height="2.6" fill="#c8ccd4" opacity="0.8"/><rect x="965" y="1466.9" width="24" height="2.6" fill="#c8ccd4" opacity="0.7"/><rect x="1021" y="1466.9" width="2" height="2.6" fill="#3a6ab0" /><rect x="1027.8" y="1465.2" width="13" height="6" fill="#e8e8e8" rx="3"/><rect x="1127" y="1466.9" width="33" height="2.6" fill="#9aa0b0" opacity="0.7"/><rect x="1176" y="1466.9" width="12" height="2.6" fill="#c8ccd4" opacity="0.8"/><rect x="1209" y="1463.7" width="18.5" height="9" fill="#e8e8e8" /><rect x="1214" y="1467.0" width="8" height="2.4" fill="#9aa0b0" /><rect x="1232" y="1463.7" width="18.5" height="9" fill="#e8e8e8" /><rect x="1237" y="1467.0" width="8" height="2.4" fill="#9aa0b0" /><rect x="1254" y="1463.7" width="18.5" height="9" fill="#e8e8e8" /><rect x="1259" y="1467.0" width="8" height="2.4" fill="#9aa0b0" /><rect x="710" y="1476.8000000000002" width="578" height="0.6" fill="#2a3554" /><rect x="717" y="1484.1000000000001" width="3" height="2.6" fill="#9aa0b0" /><rect x="734.5" y="1483.1000000000001" width="4.5" height="4.5" fill="#e8e8e8" /><rect x="750" y="1484.1000000000001" width="54" height="2.6" fill="#b8bcc8" opacity="0.75"/><rect x="833" y="1484.1000000000001" width="21" height="2.6" fill="#9aa0b0" opacity="0.8"/><rect x="895" y="1484.1000000000001" width="22" height="2.6" fill="#c8ccd4" opacity="0.8"/><rect x="965" y="1484.1000000000001" width="24" height="2.6" fill="#c8ccd4" opacity="0.7"/><rect x="1021" y="1484.1000000000001" width="2" height="2.6" fill="#3a6ab0" /><rect x="1027.8" y="1482.4" width="13" height="6" fill="#e8e8e8" rx="3"/><rect x="1062" y="1484.1000000000001" width="53" height="2.6" fill="#9aa0b0" opacity="0.7"/><rect x="1127" y="1484.1000000000001" width="33" height="2.6" fill="#9aa0b0" opacity="0.7"/><rect x="1176" y="1484.1000000000001" width="12" height="2.6" fill="#c8ccd4" opacity="0.8"/><rect x="1209" y="1480.9" width="18.5" height="9" fill="#e8e8e8" /><rect x="1214" y="1484.2" width="8" height="2.4" fill="#9aa0b0" /><rect x="1232" y="1480.9" width="18.5" height="9" fill="#e8e8e8" /><rect x="1237" y="1484.2" width="8" height="2.4" fill="#9aa0b0" /><rect x="1254" y="1480.9" width="18.5" height="9" fill="#e8e8e8" /><rect x="1259" y="1484.2" width="8" height="2.4" fill="#9aa0b0" /><rect x="710" y="1494.0" width="578" height="0.6" fill="#2a3554" /><rect x="717" y="1501.3" width="3" height="2.6" fill="#9aa0b0" /><rect x="734.5" y="1500.3" width="4.5" height="4.5" fill="#e8e8e8" /><rect x="750" y="1501.3" width="54" height="2.6" fill="#b8bcc8" opacity="0.75"/><rect x="833" y="1501.3" width="21" height="2.6" fill="#9aa0b0" opacity="0.8"/><rect x="895" y="1501.3" width="22" height="2.6" fill="#c8ccd4" opacity="0.8"/><rect x="965" y="1501.3" width="24" height="2.6" fill="#c8ccd4" opacity="0.7"/><rect x="1021" y="1501.3" width="2" height="2.6" fill="#3a6ab0" /><rect x="1027.8" y="1499.6" width="13" height="6" fill="#e8e8e8" rx="3"/><rect x="1062" y="1501.3" width="53" height="2.6" fill="#9aa0b0" opacity="0.7"/><rect x="1127" y="1501.3" width="33" height="2.6" fill="#9aa0b0" opacity="0.7"/><rect x="1176" y="1501.3" width="12" height="2.6" fill="#c8ccd4" opacity="0.8"/><rect x="1209" y="1498.1" width="18.5" height="9" fill="#e8e8e8" /><rect x="1214" y="1501.3999999999999" width="8" height="2.4" fill="#9aa0b0" /><rect x="1232" y="1498.1" width="18.5" height="9" fill="#e8e8e8" /><rect x="1237" y="1501.3999999999999" width="8" height="2.4" fill="#9aa0b0" /><rect x="1254" y="1498.1" width="18.5" height="9" fill="#e8e8e8" /><rect x="1259" y="1501.3999999999999" width="8" height="2.4" fill="#9aa0b0" /><rect x="710" y="1511.2" width="578" height="0.6" fill="#2a3554" /><rect x="717" y="1518.5" width="3" height="2.6" fill="#9aa0b0" /><rect x="734.5" y="1517.5" width="4.5" height="4.5" fill="#e8e8e8" /><rect x="763" y="1518.5" width="30" height="2.6" fill="#b8bcc8" opacity="0.75"/><rect x="833" y="1518.5" width="21" height="2.6" fill="#9aa0b0" opacity="0.8"/><rect x="895" y="1518.5" width="22" height="2.6" fill="#c8ccd4" opacity="0.8"/><rect x="965" y="1518.5" width="24" height="2.6" fill="#c8ccd4" opacity="0.7"/><rect x="1021" y="1518.5" width="2" height="2.6" fill="#3a6ab0" /><rect x="1027.8" y="1516.8" width="13" height="6" fill="#e8e8e8" rx="3"/><rect x="1127" y="1518.5" width="33" height="2.6" fill="#9aa0b0" opacity="0.7"/><rect x="1176" y="1518.5" width="12" height="2.6" fill="#c8ccd4" opacity="0.8"/><rect x="1209" y="1515.3" width="18.5" height="9" fill="#e8e8e8" /><rect x="1214" y="1518.6" width="8" height="2.4" fill="#9aa0b0" /><rect x="1232" y="1515.3" width="18.5" height="9" fill="#e8e8e8" /><rect x="1237" y="1518.6" width="8" height="2.4" fill="#9aa0b0" /><rect x="1254" y="1515.3" width="18.5" height="9" fill="#e8e8e8" /><rect x="1259" y="1518.6" width="8" height="2.4" fill="#9aa0b0" /><rect x="716.0" y="1538" width="2.5" height="2.5" fill="#6a7890" /><rect x="727.3" y="1538" width="2.5" height="2.5" fill="#6a7890" /><rect x="738.6" y="1538" width="2.5" height="2.5" fill="#6a7890" /><rect x="749.9" y="1538" width="2.5" height="2.5" fill="#6a7890" /><rect x="761.2" y="1538" width="2.5" height="2.5" fill="#6a7890" /><rect x="772.5" y="1538" width="2.5" height="2.5" fill="#6a7890" /><rect x="783.8" y="1538" width="2.5" height="2.5" fill="#6a7890" /><rect x="795.1" y="1538" width="2.5" height="2.5" fill="#6a7890" /><rect x="806.4" y="1538" width="2.5" height="2.5" fill="#6a7890" /><rect x="817.7" y="1538" width="2.5" height="2.5" fill="#6a7890" /><rect x="829.0" y="1538" width="2.5" height="2.5" fill="#6a7890" /><rect x="826" y="1538" width="10" height="3" fill="#9aa0b0" /><rect x="1232" y="1538" width="18" height="3" fill="#5a6880" /><rect x="1262" y="1538" width="14" height="3" fill="#b0b8c0" /><defs><linearGradient id="gl4" x1="0" y1="0" x2="0" y2="1"><stop offset="0" stop-color="#1a7a86"/><stop offset="0.3" stop-color="#156a78"/><stop offset="1" stop-color="#115866"/></linearGradient></defs><path d="M850 1548 C863.9 1525.2 924.0 1518 998.0 1518 C1072.0 1518 1132.1 1525.2 1146 1548 Z" fill="url(#gl4)" /><rect x="907.2" y="1531" width="29.59999999999991" height="12" fill="#177282" stroke="#33b0be" stroke-width="1"/><rect x="914.2" y="1535.8" width="15.599999999999909" height="2.5" fill="#c0ccd6" /><rect x="944.3" y="1531" width="29.600000000000023" height="12" fill="#177282" stroke="#33b0be" stroke-width="1"/><rect x="951.3" y="1535.8" width="15.600000000000023" height="2.5" fill="#c0ccd6" /><rect x="981.7" y="1531" width="29.299999999999955" height="12" fill="#177282" stroke="#33b0be" stroke-width="1"/><rect x="988.7" y="1535.8" width="15.299999999999955" height="2.5" fill="#c0ccd6" /><rect x="1018.4" y="1531" width="30.500000000000114" height="12" fill="#177282" stroke="#33b0be" stroke-width="1"/><rect x="1025.4" y="1535.8" width="16.500000000000114" height="2.5" fill="#c0ccd6" /><rect x="1055.6" y="1531" width="30.40000000000009" height="12" fill="#177282" stroke="#33b0be" stroke-width="1"/><rect x="1062.6" y="1535.8" width="16.40000000000009" height="2.5" fill="#c0ccd6" /></svg></div>
</body></html>
